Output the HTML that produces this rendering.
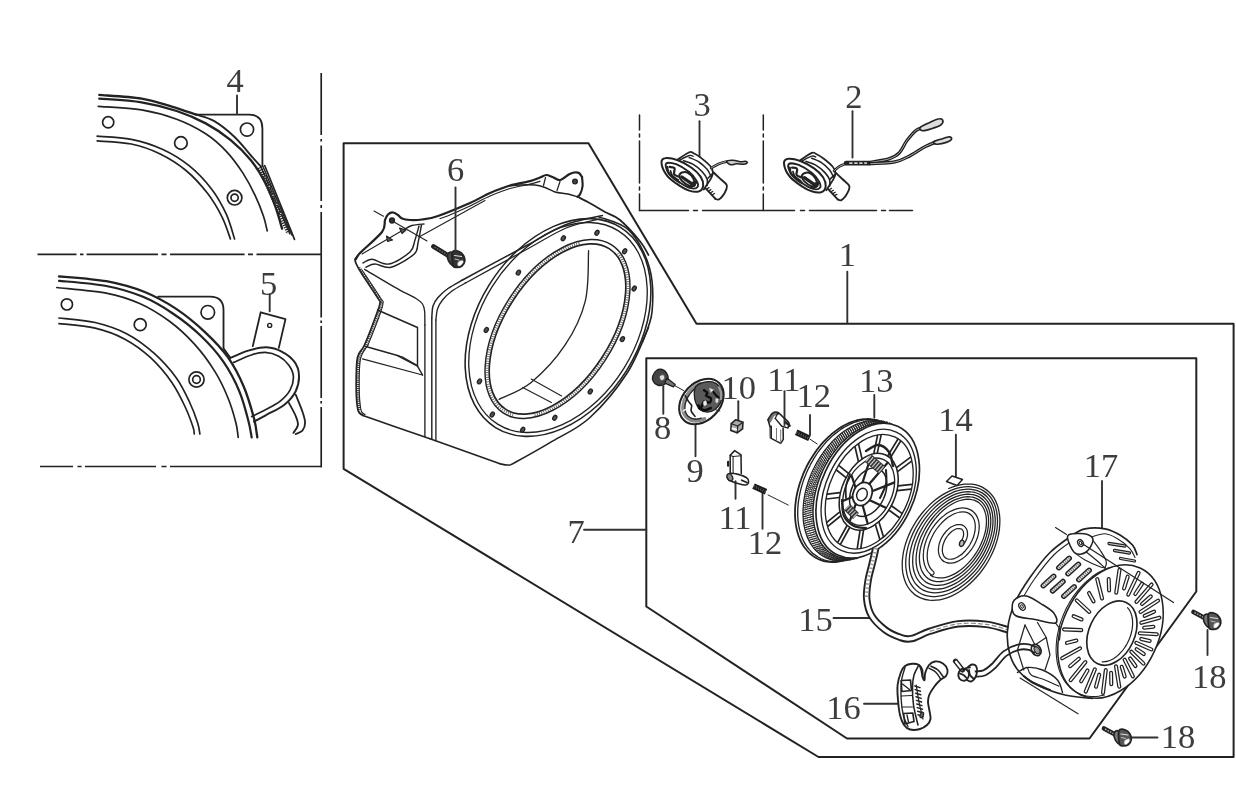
<!DOCTYPE html>
<html><head><meta charset="utf-8"><title>Recoil starter parts diagram</title>
<style>html,body{margin:0;padding:0;background:#fff}svg{display:block;font-family:"Liberation Serif",serif}
path,circle,ellipse{stroke-linecap:round;stroke-linejoin:round}</style></head>
<body><svg width="1236" height="799" viewBox="0 0 1236 799">
<defs><filter id="soft" x="0" y="0" width="1236" height="799" filterUnits="userSpaceOnUse"><feGaussianBlur stdDeviation="0.45"/></filter></defs>
<rect width="1236" height="799" fill="#fff"/>
<g filter="url(#soft)">
<path d="M343.6 143.3L588.5 143.3L696.5 323.8L1233.6 323.8L1233.6 757L818.5 757L343.6 468.8Z" fill="none" stroke="#222" stroke-width="2" />
<path d="M646.3 358.3L1196.3 358.3L1196.3 591.5L1089.5 738.5L847 738.5L646.3 606.5Z" fill="none" stroke="#222" stroke-width="2" />
<path d="M321.2 73V135M321.2 139V141.5M321.2 145.5V201M321.2 205V208M321.2 212V317.5M321.2 320.5V323M321.2 326V398M321.2 401V403.5M321.2 407V467.3" fill="none" stroke="#222" stroke-width="1.7" style="stroke-linecap:butt"/>
<path d="M37.5 254.3H76.5M80 254.3H83.5M86.6 254.3H158M161.5 254.3H166.5M170 254.3H244.6M248 254.3H253M256.5 254.3H322" fill="none" stroke="#222" stroke-width="1.7" style="stroke-linecap:butt"/>
<path d="M40 466.5H73M77.5 466.5H81.5M85 466.5H156M161.5 466.5H166.5M170 466.5H322" fill="none" stroke="#222" stroke-width="1.7" style="stroke-linecap:butt"/>
<path d="M639.5 115V210.5" fill="none" stroke="#222" stroke-width="1.5" stroke-dasharray="15 4 3 4 42 4 3 4 40"/>
<path d="M763.3 115V210.5" fill="none" stroke="#222" stroke-width="1.5" stroke-dasharray="15 4 3 4 42 4 3 4 40"/>
<path d="M639.5 210.5H912.5" fill="none" stroke="#222" stroke-width="1.5" stroke-dasharray="49 5 4 5 92 6 4 5 67 5 4 4 40"/>
<path d="M99.3 94.9C106.3 95.5 129.4 96.6 141.6 98.6C153.9 100.6 163.5 104.2 172.6 106.8C181.7 109.5 192.4 113.4 196.4 114.7" fill="none" stroke="#222" stroke-width="2.34" />
<path d="M99.3 98.6C106.3 99.2 128.7 100.2 141.6 102.3C154.5 104.4 166.1 107.5 176.7 111C187.4 114.5 196.7 118.6 205.7 123.4C214.6 128.2 222.9 133.7 230.4 139.9C238 146.1 245.2 153.3 251.1 160.5C256.9 167.8 261.4 175.3 265.5 183.3C269.7 191.2 273.1 200.5 275.9 208C278.6 215.6 281 225.3 282.1 228.7" fill="none" stroke="#222" stroke-width="2.34" />
<path d="M98.3 106.4C105.5 107 128.6 107.8 141.6 109.9C154.7 112.1 166.1 115.3 176.7 119.2C187.4 123.2 197.4 128.4 205.7 133.7C213.9 139 220.1 144.7 226.3 151.3C232.5 157.8 238 165.5 242.8 172.9C247.6 180.3 251.8 188.4 255.2 195.7C258.7 202.9 261.5 210.5 263.5 216.3C265.5 222.2 266.6 228.4 267.2 230.8" fill="none" stroke="#222" stroke-width="1.69" />
<path d="M97.2 136.2C102.9 136.7 120.5 137.1 131.3 139.3C142.1 141.4 152.6 144.8 162.3 149.2C171.9 153.6 180.9 159 189.1 165.7C197.4 172.4 205.7 181.4 211.9 189.5C218 197.5 222.5 206 226.3 214.2C230.1 222.5 233.2 234.9 234.6 239" fill="none" stroke="#222" stroke-width="1.69" />
<path d="M97.2 140.9C102.9 141.4 120.8 141.9 131.3 144C141.8 146.2 151.1 149.5 160.2 153.9C169.3 158.3 178.1 163.8 186 170.5C194 177.1 201.7 185.8 207.7 193.6C213.7 201.4 218.4 209.8 222.2 217.3C226 224.9 229.1 235.4 230.4 239" fill="none" stroke="#222" stroke-width="1.69" />
<path d="M196.4 114.7C199.3 115.7 207.5 117.2 213.9 120.9C220.3 124.6 228 130.8 234.6 137C241.1 143.2 248.7 153.1 253.2 158.1C257.6 163 259.7 165.3 261 166.7" fill="none" stroke="#222" stroke-width="1.82" />
<path d="M196.4 114.7L249 114.7Q262.4 114.7 262.4 128.5L262.4 165.7" fill="none" stroke="#222" stroke-width="1.82" />
<path d="M260.6 166.3L289.9 233.9" fill="none" stroke="#222" stroke-width="1.43" />
<path d="M262.7 165.9L292 235.3" fill="none" stroke="#222" stroke-width="1.43" />
<path d="M264.7 165.5L294.5 239.4" fill="none" stroke="#222" stroke-width="1.69" />
<path d="M259.8 167.2L288.7 233.2" fill="none" stroke="#222" stroke-width="4.68" stroke-dasharray="1.2 1.2" style="stroke-linecap:butt"/>
<circle cx="265.1" cy="177.1" r="1.3" fill="#fff" stroke="#222" stroke-width="1.17"/>
<circle cx="269.1" cy="186.2" r="1.3" fill="#fff" stroke="#222" stroke-width="1.17"/>
<circle cx="273" cy="195.2" r="1.3" fill="#fff" stroke="#222" stroke-width="1.17"/>
<circle cx="276.9" cy="204.3" r="1.3" fill="#fff" stroke="#222" stroke-width="1.17"/>
<circle cx="280.8" cy="213.4" r="1.3" fill="#fff" stroke="#222" stroke-width="1.17"/>
<circle cx="108.2" cy="122.3" r="5.6" fill="none" stroke="#222" stroke-width="1.69"/>
<circle cx="180.9" cy="143" r="6.3" fill="none" stroke="#222" stroke-width="1.69"/>
<circle cx="247" cy="129.6" r="6.6" fill="none" stroke="#222" stroke-width="1.69"/>
<circle cx="234.6" cy="197.7" r="7.3" fill="none" stroke="#222" stroke-width="1.69"/>
<circle cx="234.6" cy="197.7" r="3.6" fill="none" stroke="#222" stroke-width="1.69"/>
<path d="M59 276.3C66.9 277.1 92.1 278.6 106.3 281.2C120.6 283.9 133 287.4 144.7 292C156.3 296.7 166.1 302.2 176.2 308.9C186.4 315.7 196.9 324.5 205.5 332.6C214.1 340.7 221.7 348.4 228 357.4C234.4 366.4 239.5 376.6 243.8 386.7C248.1 396.8 251.7 409.8 254 418.3C256.2 426.7 256.8 434.2 257.3 437.4" fill="none" stroke="#222" stroke-width="2.34" />
<path d="M59 280.8C66.9 281.6 92.4 283.3 106.3 286C120.2 288.6 131.3 292 142.4 296.6C153.5 301.1 163.1 306.9 172.8 313.5C182.6 320 192.6 327.9 201 336C209.5 344.1 217.2 352.7 223.5 361.9C229.9 371.1 235.2 381.4 239.3 391.2C243.4 401 246.3 412.8 248.3 420.5C250.4 428.2 251.1 434.6 251.7 437.4" fill="none" stroke="#222" stroke-width="2.21" />
<path d="M56.8 287.5C65 288.5 92.4 290.5 106.3 293.2C120.2 295.9 129.6 299.1 140.2 303.8C150.7 308.5 160.4 314.7 169.5 321.3C178.5 328 186.7 335.6 194.2 343.9C201.8 352.1 208.9 361.9 214.5 370.9C220.2 379.9 224.5 389.3 228 398C231.6 406.6 234.2 416.2 235.9 422.8C237.6 429.3 237.8 435 238.2 437.4" fill="none" stroke="#222" stroke-width="1.69" />
<path d="M59 318C65 318.7 83.8 319.8 95.1 322.5C106.3 325.1 116.9 328.7 126.6 333.7C136.4 338.8 145.4 345.6 153.7 352.9C161.9 360.2 170.2 369.4 176.2 377.7C182.2 386 186.2 395 189.7 402.5C193.3 410 195.9 417.5 197.6 422.8C199.3 428 199.5 432.2 199.9 434" fill="none" stroke="#222" stroke-width="1.69" />
<path d="M59 323.6C65 324.3 84.2 325.6 95.1 328.1C106 330.7 115.2 334 124.4 338.9C133.6 343.8 142.4 350.2 150.3 357.4C158.2 364.6 165.9 373.9 171.7 382.2C177.5 390.5 181.7 399.5 185.2 407C188.8 414.5 191.6 422.8 193.1 427.3C194.6 431.8 194.1 432.9 194.2 434" fill="none" stroke="#222" stroke-width="1.69" />
<path d="M158.2 296.6L210 296.6Q223.5 296.6 223.5 310.1L223.5 348.4L230.3 357.9" fill="none" stroke="#222" stroke-width="1.82" />
<path d="M230.3 357.9C233.3 356.7 242.3 352.4 248.3 350.6C254.3 348.9 260.7 347.1 266.4 347.3C272 347.5 277.4 349.3 282.1 351.8C286.8 354.2 291.7 358 294.5 361.9C297.4 365.9 298.9 370.6 299 375.4C299.2 380.3 298.1 386.3 295.7 391.2C293.2 396.1 289.3 400.8 284.4 404.7C279.5 408.7 271.4 412.1 266.4 414.9C261.3 417.7 256 420.5 254 421.6" fill="none" stroke="#222" stroke-width="1.95" />
<path d="M233.7 362.4C236.5 361.2 245.3 356.8 250.6 355.2C255.8 353.5 260.5 352.3 265.2 352.4C269.9 352.6 274.8 354.1 278.8 356.3C282.7 358.4 286.5 361.9 288.9 365.3C291.3 368.7 293.2 372.4 293.4 376.6C293.6 380.7 292.3 386 290 390.1C287.8 394.2 284.2 398 279.9 401.4C275.6 404.7 268.8 407.9 264.1 410.4C259.4 412.9 253.8 415.4 251.7 416.5" fill="none" stroke="#222" stroke-width="1.69" />
<path d="M252.8 346.1L260.7 312.3L285.5 319.1L278.8 347.9" fill="none" stroke="#222" stroke-width="1.82" />
<circle cx="269.7" cy="325.4" r="2" fill="none" stroke="#222" stroke-width="1.43"/>
<path d="M295.7 394.6C296.8 397.4 300.8 406.8 302.4 411.5C304 416.2 305.1 419.6 305.1 422.8C305.1 426 304 428.8 302.4 430.7C300.8 432.5 296.8 433.5 295.7 434" fill="none" stroke="#222" stroke-width="1.82" />
<path d="M288.9 402.9C290 405.1 294.2 412.3 295.7 416C297.2 419.7 298.3 422.2 297.9 425C297.5 427.8 294.2 431.6 293.4 432.9" fill="none" stroke="#222" stroke-width="1.82" />
<circle cx="66.9" cy="304.4" r="5.6" fill="none" stroke="#222" stroke-width="1.69"/>
<circle cx="140.2" cy="324.7" r="6" fill="none" stroke="#222" stroke-width="1.69"/>
<circle cx="207.8" cy="312.3" r="6.8" fill="none" stroke="#222" stroke-width="1.69"/>
<circle cx="196.5" cy="379.5" r="7.6" fill="none" stroke="#222" stroke-width="1.69"/>
<circle cx="196.5" cy="379.5" r="3.8" fill="none" stroke="#222" stroke-width="1.69"/>
<path d="M356 259C356.7 258 355.7 257.5 360 253C364.3 248.5 377.8 237.5 382 232C386.2 226.5 384 222.9 385 220C386 217.1 386.7 215.8 388 214.5C389.3 213.2 391.3 212.4 393 212.5C394.7 212.6 396.5 214 398 215C399.5 216 400 217.7 402 218.5C404 219.3 406.7 219.8 410 220C413.3 220.2 417.3 220.2 422 219.5C426.7 218.8 430 218.8 438 216C446 213.2 461.3 206.8 470 203C478.7 199.2 483.3 195.9 490 193C496.7 190.1 503.3 187.5 510 185.5C516.7 183.5 525 182.6 530 181.2C535 179.9 537.3 178.5 540 177.5C542.7 176.5 544.2 175.1 546.2 175C548.3 174.9 550.2 176.2 552.5 177C554.8 177.8 557.3 180.4 560 180C562.7 179.6 566.4 175.8 568.8 174.5C571.1 173.2 572.3 172.8 574 172.5C575.7 172.2 577.7 172.2 579 173C580.3 173.8 581.5 176.3 582 177" fill="none" stroke="#222" stroke-width="2.24" />
<path d="M440 218.5C441.2 218.1 442.5 218.1 447.5 216C452.5 213.9 462.9 209.3 470 206C477.1 202.7 483.3 198.9 490 196C496.7 193.1 503.3 190.5 510 188.5C516.7 186.5 525 185.5 530 184.2C535 183 538.3 181.8 540 181.2" fill="none" stroke="#222" stroke-width="1.23" />
<path d="M508 186.2C510 186 515.5 185.2 520 185C524.5 184.8 530.8 184.6 535 185C539.2 185.4 541.7 186.3 545 187.5C548.3 188.7 551.2 190.9 555 192C558.8 193.1 564.2 193.2 568 194C571.8 194.8 575.9 196.3 577.5 196.8" fill="none" stroke="#222" stroke-width="1.34" />
<path d="M545.5 177.5L543.5 185.5" fill="none" stroke="#222" stroke-width="1.23" />
<path d="M560 181.5L557 190.5" fill="none" stroke="#222" stroke-width="1.23" />
<circle cx="575" cy="181.5" r="2.3" fill="#444" stroke="#222" stroke-width="1.34"/>
<path d="M582 177C582.1 178.5 582.9 183.2 582.6 186C582.3 188.8 581.1 192.2 580.2 194C579.4 195.8 578 196.3 577.5 196.8" fill="none" stroke="#222" stroke-width="2.13" />
<path d="M577.5 196.8C579.6 197.9 585.4 200.7 590 203.2C594.6 205.7 600 209.2 605 212C610 214.8 614.2 215.1 620 220C625.8 224.9 635.2 235.4 640 241.2C644.8 247.1 647.1 252.7 648.5 255" fill="none" stroke="#222" stroke-width="1.79" />
<circle cx="392" cy="220.5" r="2.4" fill="#333" stroke="#222" stroke-width="1.46"/>
<path d="M362 254L398 233L404.5 229.3" fill="none" stroke="#222" stroke-width="1.12" />
<path d="M399.5 228L406 230L402 233.5Z" fill="#555" stroke="#222" stroke-width="1.12" />
<path d="M386.5 236L392.5 240L387.5 241.5Z" fill="#555" stroke="#222" stroke-width="1.12" />
<path d="M404.5 229.3C405.8 228.7 408.8 226.4 412 225.5C415.2 224.6 422 224.2 424 224" fill="none" stroke="#222" stroke-width="1.34" />
<path d="M374 211L383.5 216.2" fill="none" stroke="#222" stroke-width="1.12" />
<path d="M394 222L427 241" fill="none" stroke="#222" stroke-width="1.12" />
<path d="M363 263C364.5 262.4 367.7 259 372 259.2C376.3 259.4 382.7 265.2 389 264C395.3 262.8 405.7 256 410 252C414.3 248 413.5 244.3 415 240C416.5 235.7 418.3 228.3 419 226" fill="none" stroke="#222" stroke-width="1.46" />
<path d="M366 267.2C367.5 266.7 370.8 264 375 264C379.2 264 384.5 268.8 391 267.2C397.5 265.6 409.5 258.2 414 254.2C418.5 250.2 416.8 247.9 418 243C419.2 238.1 420.9 228 421.5 225" fill="none" stroke="#222" stroke-width="1.46" />
<path d="M419 237L485 200.5" fill="none" stroke="#222" stroke-width="1.12" />
<path d="M462.5 280C473.3 274.2 510.4 254.2 527.5 245C544.6 235.8 552.5 229.9 565 225C577.5 220.1 596.2 217.1 602.5 215.5" fill="none" stroke="#222" stroke-width="1.46" />
<path d="M465 283.2C475.6 277.4 511.9 257.5 528.8 248.2C545.6 239 554.4 232.9 566.2 228C578.1 223.1 594.4 220.5 600 219" fill="none" stroke="#222" stroke-width="1.23" />
<path d="M364.6 269.3C369.7 272.3 386.4 282.4 395 287.3C403.6 292.2 411.4 295.7 416 298.5C420.6 301.3 421.1 301.9 422.5 304C423.9 306.1 424.2 307.5 424.6 311C425 314.5 424.8 322.7 424.9 325" fill="none" stroke="#222" stroke-width="1.34" />
<path d="M424.9 325L424.9 436.5" fill="none" stroke="#222" stroke-width="1.34" />
<path d="M462.5 280C460.1 281.4 452.1 285.6 448 288.5C443.9 291.4 440.5 294.6 438 297.5C435.5 300.4 434 302.6 433 306C432 309.4 432 316 431.8 318" fill="none" stroke="#222" stroke-width="1.46" />
<path d="M431.8 318L431.8 439" fill="none" stroke="#222" stroke-width="1.46" />
<path d="M465.5 283C463.2 284.3 455.8 288.2 452 291C448.2 293.8 444.9 297 442.5 300C440.1 303 438.6 305.7 437.5 309C436.4 312.3 436.2 318.2 435.9 320" fill="none" stroke="#222" stroke-width="1.34" />
<path d="M435.9 320L435.9 440.5" fill="none" stroke="#222" stroke-width="1.34" />
<path d="M357.5 256.2C357.1 256.9 354.7 257.7 355 260C355.3 262.3 355.8 263.8 359.5 270C363.2 276.2 374.1 292 377.5 297.5C380.9 303 380.2 300.1 380 303C379.8 305.9 378.8 308 376.2 315C373.7 322 367.6 337.9 364.5 345C361.4 352.1 358.9 350.4 357.5 357.5C356.1 364.6 356.2 378.8 356.2 387.5C356.3 396.2 356.9 405.3 358 410C359.1 414.7 362.2 414.6 363 415.5" fill="none" stroke="#222" stroke-width="1.79" />
<path d="M362 270C365.1 274.7 377 292.5 380.5 298C384 303.5 383.2 300.2 383 303.2C382.8 306.3 381.8 309.3 379.2 316.2C376.8 323.2 369.9 340.2 368 345" fill="none" stroke="#222" stroke-width="1.12" />
<path d="M359 267.5C362.3 272.5 375.2 291.8 379 297.8C382.8 303.7 381.7 300 381.5 303C381.3 306 380.3 308.5 377.8 315.5C375.2 322.5 369.4 337.9 366.2 345C363.1 352.1 360.4 350.9 359 358C357.6 365.1 357.7 378.8 357.8 387.5C357.8 396.2 359.2 406.2 359.5 410" fill="none" stroke="#333" stroke-width="3.14" stroke-dasharray="1.0 1.1" style="stroke-linecap:butt"/>
<path d="M368 345C366.8 347.3 362 351.7 360.5 358.8C359 365.8 359.2 379 359.2 387.5C359.3 396 360 405.5 361 410C362 414.5 364.3 413.8 365 414.5" fill="none" stroke="#222" stroke-width="1.12" />
<path d="M363 415.5C374.2 419.4 418.8 434.9 430 438.8" fill="none" stroke="#222" stroke-width="1.57" />
<path d="M430 438.8L500 463.8" fill="none" stroke="#222" stroke-width="1.57" />
<path d="M500 463.8C501.3 464 505.5 465.2 508 465C510.5 464.8 507.6 466.5 515 462.5C522.4 458.5 540 448.8 552.5 441.2C565 433.8 577.5 429 590 417.5C602.5 406 617.8 387.5 627.5 372.5C637.2 357.5 645 335 648.5 327.5" fill="none" stroke="#222" stroke-width="1.57" />
<path d="M377.5 310L417.5 327.5L417.5 366.2" fill="none" stroke="#222" stroke-width="1.46" />
<path d="M362.5 358.8L422.5 375" fill="none" stroke="#222" stroke-width="1.23" />
<path d="M365 346.2L397.5 355.5L417.5 366.2L422.5 375" fill="none" stroke="#222" stroke-width="1.46" />
<path d="M397.5 355.5L402.5 357L417.5 365.5" fill="none" stroke="#222" stroke-width="1.12" />
<ellipse cx="558" cy="327.5" rx="118" ry="81" transform="rotate(-58 558 327.5)" fill="none" stroke="#222" stroke-width="1.57" />
<ellipse cx="558" cy="327.5" rx="114" ry="77.5" transform="rotate(-58 558 327.5)" fill="none" stroke="#222" stroke-width="1.34" />
<ellipse cx="557.5" cy="329" rx="100" ry="57" transform="rotate(-57 557.5 329)" fill="none" stroke="#222" stroke-width="1.46" />
<ellipse cx="557.5" cy="329" rx="95.5" ry="52.8" transform="rotate(-57 557.5 329)" fill="none" stroke="#222" stroke-width="1.68" />
<path d="M513.1 414.9C512.5 414.7 510.6 414.1 509.4 413.6C508.2 413.1 507 412.6 505.9 411.9C504.8 411.3 503.7 410.6 502.7 409.8C501.7 409.1 500.7 408.3 499.8 407.4C498.8 406.5 497.9 405.5 497.1 404.5C496.3 403.5 495.5 402.4 494.7 401.3C494 400.1 493.3 398.9 492.7 397.7C492 396.4 491.4 395.1 490.9 393.8C490.4 392.4 489.9 391 489.5 389.5C489.1 388.1 488.7 386.6 488.4 385C488.1 383.5 487.8 381.9 487.6 380.2C487.4 378.6 487.3 376.9 487.2 375.2C487.1 373.4 487.1 371.7 487.1 369.9C487.2 368.1 487.3 366.3 487.4 364.4C487.6 362.6 487.8 360.7 488 358.8C488.3 356.9 488.6 354.9 489 353C489.3 351 489.8 349 490.3 347.1C490.7 345.1 491.3 343.1 491.9 341.1C492.5 339.1 493.1 337 493.8 335C494.5 333 495.2 331 496 328.9C496.8 326.9 497.7 324.9 498.6 322.8C499.5 320.8 500.4 318.8 501.4 316.8C502.4 314.8 503.4 312.8 504.5 310.8C505.6 308.8 506.7 306.8 507.9 304.9C509 302.9 510.2 301 511.5 299.1C512.7 297.2 514 295.3 515.3 293.5C516.6 291.6 517.9 289.8 519.3 288C520.7 286.2 522.1 284.4 523.5 282.7C525 281 526.4 279.3 527.9 277.7C529.4 276 530.9 274.4 532.4 272.9C534 271.3 535.5 269.8 537.1 268.4C538.6 266.9 540.2 265.5 541.8 264.1C543.4 262.8 545 261.5 546.7 260.2C548.3 259 549.9 257.8 551.5 256.6C553.2 255.5 554.8 254.4 556.4 253.4C558.1 252.4 559.7 251.5 561.3 250.6C563 249.7 564.6 248.9 566.2 248.1C567.9 247.3 569.5 246.6 571.1 246C572.7 245.4 574.3 244.8 575.9 244.3C577.4 243.9 579.8 243.3 580.6 243.1" fill="none" stroke="#555" stroke-width="3.36" stroke-dasharray="0.8 1.5" style="stroke-linecap:butt"/>
<path d="M617.9 253.5C618.2 254 619.3 255.3 620 256.3C620.6 257.3 621.3 258.3 621.8 259.4C622.4 260.5 623 261.6 623.5 262.7C624 263.9 624.4 265.1 624.8 266.3C625.3 267.5 625.6 268.8 626 270.1C626.3 271.4 626.6 272.8 626.8 274.2C627.1 275.5 627.3 277 627.4 278.4C627.6 279.9 627.7 281.3 627.8 282.8C627.8 284.3 627.9 285.9 627.9 287.4C627.8 289 627.8 290.6 627.7 292.2C627.6 293.8 627.4 295.4 627.2 297.1C627.1 298.8 626.8 300.4 626.5 302.1C626.3 303.8 625.9 305.5 625.6 307.2C625.2 309 624.8 310.7 624.4 312.4C623.9 314.2 623.4 315.9 622.9 317.7C622.4 319.4 621.8 321.2 621.2 323C620.6 324.8 619.9 326.5 619.3 328.3C618.6 330.1 617.9 331.9 617.1 333.6C616.3 335.4 615.5 337.2 614.7 338.9C613.9 340.7 613 342.5 612.1 344.2C611.2 346 610.2 347.7 609.3 349.4C608.3 351.2 607.3 352.9 606.3 354.6C605.2 356.3 604.2 358 603.1 359.6C602 361.3 600.9 362.9 599.7 364.5C598.6 366.2 597.4 367.8 596.2 369.3C595 370.9 593.8 372.5 592.5 374C591.3 375.5 590 377 588.8 378.5C587.5 379.9 586.2 381.4 584.8 382.8C583.5 384.2 582.2 385.5 580.8 386.9C579.5 388.2 578.1 389.5 576.7 390.7C575.4 392 574 393.2 572.6 394.4C571.2 395.5 569.8 396.7 568.3 397.8C566.9 398.9 565.5 399.9 564.1 400.9C562.7 401.9 561.2 402.9 559.8 403.8C558.4 404.7 556.9 405.6 555.5 406.4C554.1 407.2 552.6 408 551.2 408.7C549.8 409.4 548.4 410.1 546.9 410.7C545.5 411.3 544.1 411.9 542.7 412.4C541.3 413 539.9 413.4 538.5 413.8C537.2 414.2 535.1 414.7 534.4 414.9" fill="none" stroke="#555" stroke-width="3.36" stroke-dasharray="0.8 1.5" style="stroke-linecap:butt"/>
<path d="M598.7 216.9C603.8 219.1 620.7 222 629.1 230.4C637.6 238.8 645.6 254 649.4 267.5C653.2 281.1 653.2 299.1 652.1 311.4C651 323.8 644.2 336.8 642.6 341.8" fill="none" stroke="#222" stroke-width="1.57" />
<ellipse cx="563.3" cy="238.2" rx="2.6" ry="1.8" transform="rotate(-58 563.3 238.2)" fill="#555" stroke="#222" stroke-width="1.34" />
<ellipse cx="597" cy="232.8" rx="2.6" ry="1.8" transform="rotate(-58 597 232.8)" fill="#555" stroke="#222" stroke-width="1.34" />
<ellipse cx="624.7" cy="251.3" rx="2.6" ry="1.8" transform="rotate(-58 624.7 251.3)" fill="#555" stroke="#222" stroke-width="1.34" />
<ellipse cx="634.2" cy="288.5" rx="2.6" ry="1.8" transform="rotate(-58 634.2 288.5)" fill="#555" stroke="#222" stroke-width="1.34" />
<ellipse cx="622.4" cy="339.1" rx="2.6" ry="1.8" transform="rotate(-58 622.4 339.1)" fill="#555" stroke="#222" stroke-width="1.34" />
<ellipse cx="590.3" cy="391.5" rx="2.6" ry="1.8" transform="rotate(-58 590.3 391.5)" fill="#555" stroke="#222" stroke-width="1.34" />
<ellipse cx="554.8" cy="417.8" rx="2.6" ry="1.8" transform="rotate(-58 554.8 417.8)" fill="#555" stroke="#222" stroke-width="1.34" />
<ellipse cx="522.7" cy="429.7" rx="2.6" ry="1.8" transform="rotate(-58 522.7 429.7)" fill="#555" stroke="#222" stroke-width="1.34" />
<ellipse cx="492.3" cy="414.5" rx="2.6" ry="1.8" transform="rotate(-58 492.3 414.5)" fill="#555" stroke="#222" stroke-width="1.34" />
<ellipse cx="479.5" cy="381.4" rx="2.6" ry="1.8" transform="rotate(-58 479.5 381.4)" fill="#555" stroke="#222" stroke-width="1.34" />
<ellipse cx="486.3" cy="330" rx="2.6" ry="1.8" transform="rotate(-58 486.3 330)" fill="#555" stroke="#222" stroke-width="1.34" />
<ellipse cx="518.4" cy="272.6" rx="2.6" ry="1.8" transform="rotate(-58 518.4 272.6)" fill="#555" stroke="#222" stroke-width="1.34" />
<path d="M588.6 250.7C588 259.1 589.2 285.6 585.2 301.3C581.3 317.1 574 331.7 565 345.2C556 358.7 542.2 373.4 531.2 382.4C520.2 391.4 504.4 396.4 499.1 399.3" fill="none" stroke="#222" stroke-width="1.34" />
<path d="M531.2 379L561.6 395.9" fill="none" stroke="#222" stroke-width="1.12" />
<path d="M522.7 387.4L551.4 402.6" fill="none" stroke="#222" stroke-width="1.12" />
<path d="M433.5 246.5L451 257.3" fill="none" stroke="#222" stroke-width="4.7" style="stroke-linecap:round"/>
<path d="M434.5 247L450 256.8" fill="none" stroke="#666" stroke-width="1.46" stroke-dasharray="1.6 1.2" style="stroke-linecap:butt"/>
<ellipse cx="452.8" cy="259.2" rx="4.6" ry="7.6" transform="rotate(-28 452.8 259.2)" fill="#444" stroke="#222" stroke-width="1.57" />
<path d="M452.5 252C453.5 249.7 457.2 250.9 459 251.5C460.8 252.1 462.5 253.9 463.5 255.5C464.5 257.1 465.1 259.2 464.8 261C464.6 262.8 463.4 264.9 462 266C460.6 267.1 458 267.6 456.5 267.5C455 267.4 453.7 268.1 453 265.5C452.3 262.9 451.5 254.3 452.5 252Z" fill="#333" stroke="#222" stroke-width="1.68" />
<path d="M458.2 262C458.9 261.1 461.4 260.2 462.2 260.3C463 260.4 463.5 261.6 463.2 262.5C462.9 263.4 461.4 265.2 460.5 265.7C459.6 266.2 458.2 266.1 457.8 265.5C457.4 264.9 457.5 262.9 458.2 262Z" fill="#fff" stroke="#888" stroke-width="0.67" />
<path d="M454.5 255.5L461.5 256.5" fill="none" stroke="#ddd" stroke-width="1.23" />
<path d="M455 259L459 260" fill="none" stroke="#bbb" stroke-width="1.01" />
<text x="235" y="91.9" font-size="34.5" fill="#3c3c3c" text-anchor="middle">4</text>
<text x="268.6" y="294.9" font-size="34.5" fill="#3c3c3c" text-anchor="middle">5</text>
<text x="455.5" y="180.9" font-size="34.5" fill="#3c3c3c" text-anchor="middle">6</text>
<text x="702" y="116.4" font-size="34.5" fill="#3c3c3c" text-anchor="middle">3</text>
<text x="853.8" y="108.4" font-size="34.5" fill="#3c3c3c" text-anchor="middle">2</text>
<text x="847.3" y="265.6" font-size="34.5" fill="#3c3c3c" text-anchor="middle">1</text>
<text x="662.5" y="439.4" font-size="34.5" fill="#3c3c3c" text-anchor="middle">8</text>
<text x="695" y="481.9" font-size="34.5" fill="#3c3c3c" text-anchor="middle">9</text>
<text x="738.8" y="399.4" font-size="34.5" fill="#3c3c3c" text-anchor="middle">10</text>
<text x="783.8" y="390.7" font-size="34.5" fill="#3c3c3c" text-anchor="middle">11</text>
<text x="813.8" y="406.9" font-size="34.5" fill="#3c3c3c" text-anchor="middle">12</text>
<text x="876.3" y="391.9" font-size="34.5" fill="#3c3c3c" text-anchor="middle">13</text>
<text x="735" y="529.4" font-size="34.5" fill="#3c3c3c" text-anchor="middle">11</text>
<text x="765" y="554.4" font-size="34.5" fill="#3c3c3c" text-anchor="middle">12</text>
<text x="955.5" y="430.7" font-size="34.5" fill="#3c3c3c" text-anchor="middle">14</text>
<text x="815.5" y="630.5" font-size="34.5" fill="#3c3c3c" text-anchor="middle">15</text>
<text x="843.4" y="719.1" font-size="34.5" fill="#3c3c3c" text-anchor="middle">16</text>
<text x="1101" y="476.9" font-size="34.5" fill="#3c3c3c" text-anchor="middle">17</text>
<text x="1209.3" y="688.2" font-size="34.5" fill="#3c3c3c" text-anchor="middle">18</text>
<text x="1178" y="748.4" font-size="34.5" fill="#3c3c3c" text-anchor="middle">18</text>
<text x="576.2" y="542.6" font-size="34.5" fill="#3c3c3c" text-anchor="middle">7</text>
<path d="M237 95.5L237 114" fill="none" stroke="#333" stroke-width="1.9" />
<path d="M269.7 294.3L269.7 311.2" fill="none" stroke="#333" stroke-width="1.9" />
<path d="M455.5 187.5L455.5 251.3" fill="none" stroke="#333" stroke-width="1.9" />
<path d="M699.5 121.3L699.5 156.3" fill="none" stroke="#333" stroke-width="1.9" />
<path d="M852.5 111.3L852.5 157.5" fill="none" stroke="#333" stroke-width="1.9" />
<path d="M847.3 271.7L847.3 322.6" fill="none" stroke="#333" stroke-width="1.9" />
<path d="M663.3 386.3L663.3 413.8" fill="none" stroke="#333" stroke-width="1.9" />
<path d="M695.5 425L695.5 456.3" fill="none" stroke="#333" stroke-width="1.9" />
<path d="M738.3 401.3L738.3 420" fill="none" stroke="#333" stroke-width="1.9" />
<path d="M784.5 391.3L784.5 425" fill="none" stroke="#333" stroke-width="1.9" />
<path d="M810 415L810 435" fill="none" stroke="#333" stroke-width="1.9" />
<path d="M874.3 395L874.3 417.5" fill="none" stroke="#333" stroke-width="1.9" />
<path d="M735.5 481.3L735.5 498.8" fill="none" stroke="#333" stroke-width="1.9" />
<path d="M762.5 493.8L762.5 528.8" fill="none" stroke="#333" stroke-width="1.9" />
<path d="M955.9 434.7L955.9 477" fill="none" stroke="#333" stroke-width="1.9" />
<path d="M833.5 618L870 618" fill="none" stroke="#333" stroke-width="1.9" />
<path d="M864 703.8L898 703.8" fill="none" stroke="#333" stroke-width="1.9" />
<path d="M1102 481L1102 527.5" fill="none" stroke="#333" stroke-width="1.9" />
<path d="M1207.5 630L1207.5 655" fill="none" stroke="#333" stroke-width="1.9" />
<path d="M1131.3 737.5L1157.5 737.5" fill="none" stroke="#333" stroke-width="1.9" />
<path d="M584 529.8L646.3 529.8" fill="none" stroke="#333" stroke-width="1.9" />
<path d="M844.8 560.2C844.1 560.4 842.1 560.9 840.7 561.2C839.4 561.5 838 561.7 836.7 561.8C835.4 562 834.1 562 832.8 562C831.5 562.1 830.2 562 828.9 561.9C827.7 561.7 826.4 561.5 825.2 561.3C824 561 822.8 560.7 821.6 560.3C820.4 559.9 819.3 559.5 818.2 559C817.1 558.4 816 557.9 814.9 557.2C813.9 556.6 812.8 555.9 811.9 555.1C810.9 554.4 809.9 553.5 809 552.7C808.1 551.8 807.2 550.8 806.4 549.8C805.6 548.8 804.8 547.8 804 546.7C803.3 545.6 802.6 544.4 801.9 543.2C801.2 542 800.6 540.8 800 539.5C799.5 538.2 798.9 536.9 798.5 535.5C798 534.1 797.6 532.7 797.2 531.2C796.8 529.8 796.5 528.2 796.2 526.7C795.9 525.2 795.7 523.6 795.5 522C795.3 520.4 795.2 518.8 795.1 517.2C795 515.5 795 513.8 795 512.1C795 510.4 795.1 508.7 795.2 507C795.3 505.3 795.5 503.5 795.7 501.8C795.9 500 796.2 498.2 796.5 496.5C796.9 494.7 797.2 492.9 797.7 491.1C798.1 489.4 798.6 487.6 799.1 485.8C799.6 484 800.1 482.3 800.8 480.5C801.4 478.8 802 477 802.7 475.3C803.4 473.5 804.2 471.8 804.9 470.1C805.7 468.4 806.6 466.7 807.4 465C808.3 463.4 809.2 461.7 810.1 460.1C811.1 458.5 812.1 456.9 813.1 455.4C814.1 453.9 815.1 452.3 816.2 450.9C817.3 449.4 818.4 447.9 819.5 446.5C820.7 445.1 821.8 443.8 823 442.4C824.2 441.1 825.4 439.9 826.7 438.6C827.9 437.4 829.2 436.2 830.5 435.1C831.7 434 833 432.9 834.3 431.9C835.7 430.9 837 429.9 838.3 429C839.7 428.1 841 427.2 842.4 426.4C843.7 425.7 845.1 424.9 846.4 424.2C847.8 423.6 849.2 423 850.5 422.4C851.9 421.9 853.3 421.4 854.6 421C856 420.6 857.3 420.2 858.7 419.9C860 419.6 861.4 419.4 862.7 419.2C864 419.1 865.4 419 866.7 419C868 418.9 869.3 419 870.5 419.1C871.8 419.2 873 419.4 874.3 419.6C875.5 419.8 877.3 420.4 877.9 420.5" fill="none" stroke="#222" stroke-width="1.79" />
<path d="M847.1 559.7C846.4 559.9 844.4 560.4 843.1 560.7C841.7 561 840.4 561.2 839.1 561.3C837.8 561.4 836.5 561.5 835.2 561.5C833.9 561.5 832.6 561.5 831.4 561.3C830.1 561.2 828.9 561 827.7 560.8C826.5 560.5 825.3 560.2 824.1 559.8C823 559.4 821.8 559 820.7 558.5C819.6 557.9 818.5 557.4 817.5 556.7C816.4 556.1 815.4 555.4 814.5 554.6C813.5 553.9 812.5 553.1 811.6 552.2C810.7 551.3 809.9 550.4 809 549.4C808.2 548.4 807.4 547.4 806.7 546.3C805.9 545.2 805.2 544.1 804.6 542.9C803.9 541.7 803.3 540.4 802.7 539.1C802.2 537.9 801.6 536.5 801.2 535.2C800.7 533.8 800.3 532.4 799.9 530.9C799.5 529.5 799.2 528 798.9 526.5C798.6 524.9 798.4 523.4 798.2 521.8C798 520.2 797.9 518.6 797.8 517C797.7 515.3 797.7 513.7 797.7 512C797.7 510.3 797.8 508.6 797.9 506.9C798.1 505.2 798.2 503.4 798.4 501.7C798.7 500 798.9 498.2 799.3 496.4C799.6 494.7 799.9 492.9 800.4 491.2C800.8 489.4 801.3 487.6 801.8 485.9C802.3 484.1 802.8 482.4 803.4 480.6C804 478.9 804.7 477.1 805.4 475.4C806.1 473.7 806.8 472 807.6 470.3C808.4 468.6 809.2 466.9 810.1 465.3C810.9 463.6 811.8 462 812.8 460.4C813.7 458.8 814.7 457.2 815.7 455.7C816.7 454.2 817.7 452.7 818.8 451.2C819.8 449.7 821 448.3 822.1 446.9C823.2 445.5 824.4 444.2 825.5 442.8C826.7 441.5 827.9 440.3 829.2 439.1C830.4 437.8 831.6 436.7 832.9 435.6C834.2 434.4 835.5 433.4 836.8 432.4C838.1 431.4 839.4 430.4 840.7 429.5C842 428.6 843.4 427.8 844.7 427C846.1 426.2 847.4 425.5 848.8 424.8C850.1 424.1 851.5 423.5 852.8 423C854.2 422.4 855.5 422 856.9 421.5C858.2 421.1 859.6 420.8 860.9 420.5C862.3 420.2 863.6 420 864.9 419.8C866.2 419.7 867.5 419.6 868.8 419.5C870.1 419.5 871.4 419.6 872.7 419.7C873.9 419.8 875.2 419.9 876.4 420.2C877.6 420.4 879.4 420.9 880 421.1" fill="none" stroke="#222" stroke-width="1.34" />
<path d="M852.7 558.5C852 558.6 850.1 559.2 848.7 559.4C847.4 559.7 846.1 559.9 844.8 560C843.5 560.2 842.3 560.3 841 560.3C839.7 560.3 838.5 560.2 837.3 560.1C836 560 834.8 559.8 833.6 559.5C832.4 559.3 831.3 559 830.1 558.6C829 558.2 827.9 557.8 826.8 557.3C825.7 556.8 824.7 556.2 823.6 555.6C822.6 554.9 821.6 554.3 820.6 553.5C819.7 552.8 818.8 552 817.9 551.1C817 550.3 816.1 549.3 815.3 548.4C814.5 547.4 813.7 546.4 813 545.3C812.3 544.2 811.6 543.1 810.9 542C810.3 540.8 809.7 539.6 809.1 538.3C808.6 537 808.1 535.7 807.6 534.4C807.1 533 806.7 531.7 806.3 530.2C806 528.8 805.6 527.3 805.4 525.9C805.1 524.4 804.9 522.8 804.7 521.3C804.5 519.7 804.4 518.1 804.3 516.5C804.2 514.9 804.2 513.3 804.2 511.7C804.2 510 804.3 508.3 804.4 506.6C804.5 505 804.7 503.3 804.9 501.6C805.2 499.8 805.4 498.1 805.7 496.4C806 494.7 806.4 492.9 806.8 491.2C807.2 489.5 807.7 487.8 808.2 486C808.7 484.3 809.2 482.6 809.8 480.9C810.4 479.1 811.1 477.4 811.8 475.7C812.4 474.1 813.2 472.4 813.9 470.7C814.7 469.1 815.5 467.4 816.3 465.8C817.2 464.2 818.1 462.6 819 461C819.9 459.5 820.8 457.9 821.8 456.4C822.8 454.9 823.8 453.4 824.9 452C825.9 450.5 827 449.1 828.1 447.8C829.2 446.4 830.4 445.1 831.5 443.8C832.7 442.5 833.9 441.3 835.1 440.1C836.3 438.9 837.5 437.7 838.8 436.6C840 435.6 841.3 434.5 842.5 433.5C843.8 432.5 845.1 431.6 846.4 430.7C847.7 429.8 849 429 850.3 428.2C851.7 427.4 853 426.7 854.3 426.1C855.6 425.4 857 424.8 858.3 424.3C859.6 423.8 861 423.3 862.3 422.9C863.6 422.5 864.9 422.1 866.3 421.8C867.6 421.6 868.9 421.3 870.2 421.2C871.5 421 872.8 420.9 874 420.9C875.3 420.9 876.5 420.9 877.8 421C879 421.1 880.2 421.3 881.4 421.5C882.6 421.8 884.4 422.3 884.9 422.4" fill="none" stroke="#2a2a2a" stroke-width="2.58" stroke-dasharray="1.1 1.1" style="stroke-linecap:butt"/>
<path d="M854.3 558.1C853.7 558.3 851.7 558.8 850.4 559.1C849.1 559.3 847.8 559.5 846.5 559.7C845.2 559.8 843.9 559.9 842.7 559.9C841.4 559.9 840.2 559.8 839 559.7C837.7 559.6 836.5 559.4 835.4 559.2C834.2 558.9 833 558.6 831.9 558.2C830.7 557.8 829.6 557.4 828.6 556.9C827.5 556.4 826.4 555.8 825.4 555.2C824.4 554.6 823.4 553.9 822.4 553.2C821.5 552.4 820.6 551.6 819.7 550.8C818.8 549.9 818 549 817.2 548.1C816.3 547.1 815.6 546.1 814.9 545C814.1 544 813.4 542.8 812.8 541.7C812.2 540.5 811.6 539.3 811 538.1C810.4 536.8 809.9 535.5 809.5 534.2C809 532.8 808.6 531.4 808.2 530C807.9 528.6 807.5 527.2 807.3 525.7C807 524.2 806.8 522.7 806.6 521.1C806.4 519.6 806.3 518 806.2 516.4C806.1 514.8 806.1 513.2 806.1 511.6C806.1 509.9 806.2 508.3 806.3 506.6C806.4 504.9 806.6 503.2 806.8 501.5C807 499.8 807.3 498.1 807.6 496.4C807.9 494.7 808.3 492.9 808.7 491.2C809.1 489.5 809.6 487.8 810.1 486.1C810.6 484.4 811.1 482.6 811.7 480.9C812.3 479.2 812.9 477.5 813.6 475.8C814.3 474.2 815 472.5 815.8 470.8C816.5 469.2 817.3 467.6 818.2 466C819 464.4 819.9 462.8 820.8 461.2C821.7 459.6 822.6 458.1 823.6 456.6C824.6 455.1 825.6 453.6 826.7 452.2C827.7 450.8 828.8 449.4 829.9 448C831 446.7 832.1 445.3 833.3 444.1C834.4 442.8 835.6 441.6 836.8 440.4C838 439.2 839.2 438.1 840.5 437C841.7 435.9 843 434.8 844.2 433.8C845.5 432.9 846.8 431.9 848.1 431C849.4 430.2 850.7 429.3 852 428.6C853.3 427.8 854.6 427.1 855.9 426.4C857.2 425.8 858.6 425.2 859.9 424.7C861.2 424.1 862.5 423.7 863.9 423.3C865.2 422.9 866.5 422.5 867.8 422.2C869.1 422 870.4 421.7 871.7 421.6C873 421.4 874.3 421.4 875.5 421.3C876.8 421.3 878 421.3 879.3 421.4C880.5 421.5 881.7 421.7 882.9 421.9C884.1 422.2 885.8 422.7 886.4 422.8" fill="none" stroke="#2a2a2a" stroke-width="2.58" stroke-dasharray="1.1 1.1" style="stroke-linecap:butt"/>
<path d="M855.9 557.8C855.3 557.9 853.3 558.5 852 558.7C850.7 559 849.4 559.2 848.2 559.3C846.9 559.5 845.6 559.5 844.4 559.5C843.1 559.5 841.9 559.5 840.7 559.4C839.5 559.2 838.3 559 837.1 558.8C835.9 558.6 834.8 558.2 833.6 557.9C832.5 557.5 831.4 557.1 830.3 556.6C829.3 556.1 828.2 555.5 827.2 554.9C826.2 554.3 825.2 553.6 824.2 552.9C823.3 552.1 822.4 551.3 821.5 550.5C820.6 549.6 819.8 548.7 819 547.8C818.2 546.8 817.4 545.8 816.7 544.7C816 543.7 815.3 542.6 814.6 541.4C814 540.3 813.4 539.1 812.9 537.8C812.3 536.6 811.8 535.3 811.3 533.9C810.9 532.6 810.5 531.2 810.1 529.8C809.7 528.4 809.4 527 809.1 525.5C808.9 524 808.6 522.5 808.5 521C808.3 519.4 808.2 517.9 808.1 516.3C808 514.7 808 513.1 808 511.5C808 509.8 808.1 508.2 808.2 506.5C808.3 504.8 808.5 503.2 808.7 501.5C808.9 499.8 809.2 498.1 809.5 496.4C809.8 494.7 810.2 493 810.6 491.2C811 489.5 811.4 487.8 811.9 486.1C812.4 484.4 813 482.7 813.6 481C814.1 479.3 814.8 477.6 815.4 475.9C816.1 474.3 816.8 472.6 817.6 471C818.3 469.3 819.1 467.7 820 466.1C820.8 464.5 821.7 462.9 822.6 461.4C823.5 459.8 824.4 458.3 825.4 456.8C826.4 455.3 827.4 453.9 828.4 452.4C829.5 451 830.5 449.6 831.6 448.3C832.7 446.9 833.9 445.6 835 444.3C836.2 443.1 837.3 441.9 838.5 440.7C839.7 439.5 840.9 438.4 842.2 437.3C843.4 436.2 844.6 435.2 845.9 434.2C847.2 433.2 848.4 432.3 849.7 431.4C851 430.5 852.3 429.7 853.6 428.9C854.9 428.2 856.2 427.5 857.5 426.8C858.8 426.2 860.2 425.6 861.5 425.1C862.8 424.5 864.1 424.1 865.4 423.7C866.7 423.3 868 422.9 869.3 422.6C870.6 422.4 871.9 422.1 873.2 422C874.5 421.8 875.8 421.8 877 421.7C878.3 421.7 879.5 421.7 880.7 421.8C882 421.9 883.2 422.1 884.3 422.3C885.5 422.6 887.2 423.1 887.8 423.2" fill="none" stroke="#2a2a2a" stroke-width="2.58" stroke-dasharray="1.1 1.1" style="stroke-linecap:butt"/>
<path d="M857.6 557.4C856.9 557.6 855 558.1 853.7 558.4C852.4 558.6 851.1 558.8 849.8 559C848.6 559.1 847.3 559.2 846.1 559.2C844.8 559.2 843.6 559.1 842.4 559C841.2 558.9 840 558.7 838.8 558.4C837.6 558.2 836.5 557.9 835.4 557.5C834.3 557.1 833.2 556.7 832.1 556.2C831 555.7 830 555.2 829 554.5C828 553.9 827 553.3 826 552.5C825.1 551.8 824.2 551 823.3 550.2C822.4 549.3 821.6 548.4 820.8 547.5C820 546.5 819.2 545.5 818.5 544.5C817.8 543.4 817.1 542.3 816.5 541.2C815.9 540 815.3 538.8 814.7 537.6C814.2 536.3 813.7 535 813.2 533.7C812.8 532.4 812.3 531 812 529.6C811.6 528.2 811.3 526.8 811 525.3C810.7 523.9 810.5 522.4 810.4 520.8C810.2 519.3 810 517.7 810 516.2C809.9 514.6 809.9 513 809.9 511.4C809.9 509.7 810 508.1 810.1 506.4C810.2 504.8 810.4 503.1 810.6 501.4C810.8 499.7 811.1 498.1 811.4 496.4C811.7 494.7 812 493 812.4 491.3C812.8 489.6 813.3 487.9 813.8 486.2C814.3 484.5 814.8 482.8 815.4 481.1C816 479.4 816.6 477.7 817.3 476C818 474.4 818.7 472.7 819.4 471.1C820.2 469.5 821 467.9 821.8 466.3C822.6 464.7 823.5 463.1 824.4 461.6C825.3 460 826.2 458.5 827.2 457C828.2 455.5 829.2 454.1 830.2 452.7C831.2 451.3 832.3 449.9 833.4 448.5C834.5 447.2 835.6 445.9 836.7 444.6C837.9 443.4 839.1 442.1 840.2 441C841.4 439.8 842.6 438.7 843.9 437.6C845.1 436.5 846.3 435.5 847.6 434.5C848.8 433.5 850.1 432.6 851.4 431.7C852.7 430.9 853.9 430.1 855.2 429.3C856.5 428.5 857.8 427.8 859.1 427.2C860.5 426.6 861.8 426 863.1 425.4C864.4 424.9 865.7 424.5 867 424.1C868.3 423.7 869.6 423.3 870.9 423C872.2 422.8 873.5 422.5 874.7 422.4C876 422.2 877.3 422.2 878.5 422.1C879.8 422.1 881 422.1 882.2 422.2C883.4 422.3 884.6 422.5 885.8 422.7C887 423 888.7 423.5 889.3 423.6" fill="none" stroke="#2a2a2a" stroke-width="2.58" stroke-dasharray="1.1 1.1" style="stroke-linecap:butt"/>
<path d="M859 557.1C858.4 557.2 856.4 557.8 855.1 558C853.9 558.3 852.6 558.5 851.3 558.6C850 558.8 848.8 558.8 847.6 558.8C846.3 558.8 845.1 558.8 843.9 558.7C842.7 558.5 841.5 558.4 840.3 558.1C839.2 557.9 838 557.6 836.9 557.2C835.8 556.8 834.7 556.4 833.7 555.9C832.6 555.4 831.6 554.9 830.6 554.2C829.6 553.6 828.6 553 827.6 552.2C826.7 551.5 825.8 550.7 824.9 549.9C824.1 549 823.2 548.1 822.4 547.2C821.6 546.3 820.9 545.3 820.2 544.2C819.5 543.2 818.8 542.1 818.1 540.9C817.5 539.8 816.9 538.6 816.4 537.3C815.8 536.1 815.3 534.8 814.9 533.5C814.4 532.2 814 530.8 813.6 529.5C813.3 528.1 813 526.6 812.7 525.2C812.4 523.7 812.2 522.2 812 520.7C811.9 519.2 811.7 517.6 811.6 516.1C811.6 514.5 811.5 512.9 811.6 511.3C811.6 509.7 811.7 508 811.8 506.4C811.9 504.7 812 503.1 812.3 501.4C812.5 499.7 812.7 498 813 496.3C813.4 494.7 813.7 493 814.1 491.3C814.5 489.6 815 487.9 815.4 486.2C815.9 484.5 816.5 482.8 817.1 481.1C817.6 479.5 818.3 477.8 818.9 476.1C819.6 474.5 820.3 472.8 821.1 471.2C821.8 469.6 822.6 468 823.4 466.4C824.2 464.8 825.1 463.3 826 461.7C826.9 460.2 827.8 458.7 828.8 457.2C829.8 455.7 830.8 454.3 831.8 452.9C832.8 451.5 833.9 450.1 835 448.8C836 447.4 837.2 446.1 838.3 444.9C839.4 443.6 840.6 442.4 841.8 441.2C842.9 440.1 844.1 438.9 845.4 437.9C846.6 436.8 847.8 435.8 849.1 434.8C850.3 433.8 851.6 432.9 852.8 432C854.1 431.2 855.4 430.4 856.7 429.6C858 428.9 859.3 428.2 860.6 427.5C861.9 426.9 863.2 426.3 864.5 425.8C865.8 425.3 867.1 424.8 868.4 424.4C869.7 424 871 423.7 872.3 423.4C873.6 423.1 874.8 422.9 876.1 422.7C877.4 422.6 878.6 422.5 879.9 422.5C881.1 422.5 882.3 422.5 883.5 422.6C884.8 422.7 885.9 422.9 887.1 423.1C888.3 423.3 890 423.8 890.6 424" fill="none" stroke="#2a2a2a" stroke-width="2.58" stroke-dasharray="1.1 1.1" style="stroke-linecap:butt"/>
<path d="M851.6 558.7C851 558.9 849 559.4 847.6 559.7C846.3 560 845 560.2 843.7 560.3C842.4 560.4 841.1 560.5 839.9 560.5C838.6 560.5 837.4 560.4 836.1 560.3C834.9 560.2 833.7 560 832.5 559.8C831.3 559.5 830.1 559.2 829 558.8C827.8 558.4 826.7 558 825.6 557.5C824.5 557 823.5 556.4 822.4 555.8C821.4 555.2 820.4 554.5 819.5 553.7C818.5 553 817.6 552.2 816.7 551.3C815.8 550.5 814.9 549.5 814.1 548.6C813.3 547.6 812.5 546.6 811.8 545.5C811.1 544.4 810.4 543.3 809.7 542.1C809.1 541 808.5 539.7 807.9 538.5C807.3 537.2 806.8 535.9 806.4 534.5C805.9 533.2 805.5 531.8 805.1 530.4C804.7 528.9 804.4 527.5 804.1 526C803.8 524.5 803.6 522.9 803.4 521.4C803.3 519.8 803.1 518.2 803.1 516.6C803 515 802.9 513.4 803 511.7C803 510.1 803.1 508.4 803.2 506.7C803.3 505 803.5 503.3 803.7 501.6C803.9 499.9 804.2 498.1 804.5 496.4C804.8 494.7 805.2 492.9 805.6 491.2C806 489.5 806.4 487.7 806.9 486C807.5 484.3 808 482.5 808.6 480.8C809.2 479.1 809.8 477.4 810.5 475.7C811.2 474 811.9 472.3 812.7 470.6C813.5 469 814.3 467.3 815.1 465.7C816 464.1 816.8 462.5 817.8 460.9C818.7 459.3 819.6 457.8 820.6 456.3C821.6 454.8 822.7 453.3 823.7 451.8C824.8 450.4 825.8 449 827 447.6C828.1 446.2 829.2 444.9 830.4 443.6C831.5 442.3 832.7 441.1 833.9 439.9C835.1 438.7 836.4 437.5 837.6 436.4C838.9 435.3 840.1 434.3 841.4 433.3C842.7 432.3 844 431.4 845.3 430.5C846.6 429.6 847.9 428.7 849.3 428C850.6 427.2 851.9 426.5 853.2 425.8C854.6 425.2 855.9 424.6 857.2 424C858.6 423.5 859.9 423 861.2 422.6C862.6 422.2 863.9 421.9 865.2 421.6C866.5 421.3 867.9 421.1 869.2 420.9C870.5 420.8 871.7 420.7 873 420.7C874.3 420.6 875.5 420.7 876.8 420.8C878 420.9 879.2 421 880.4 421.3C881.6 421.5 883.4 422 884 422.2" fill="none" stroke="#222" stroke-width="1.23" />
<path d="M860.3 556.8C859.6 557 857.7 557.5 856.4 557.8C855.1 558 853.9 558.2 852.6 558.3C851.3 558.5 850.1 558.5 848.9 558.6C847.6 558.6 846.4 558.5 845.2 558.4C844 558.3 842.8 558.1 841.7 557.8C840.5 557.6 839.4 557.3 838.3 556.9C837.2 556.5 836.1 556.1 835 555.6C834 555.1 832.9 554.6 831.9 554C830.9 553.4 830 552.7 829 552C828.1 551.3 827.2 550.5 826.3 549.6C825.5 548.8 824.6 547.9 823.9 547C823.1 546 822.3 545 821.6 544C820.9 542.9 820.2 541.9 819.6 540.7C819 539.6 818.4 538.4 817.8 537.2C817.3 535.9 816.8 534.7 816.3 533.3C815.9 532 815.5 530.7 815.1 529.3C814.7 527.9 814.4 526.5 814.2 525C813.9 523.6 813.7 522.1 813.5 520.6C813.3 519.1 813.2 517.5 813.1 516C813 514.4 813 512.8 813 511.2C813.1 509.6 813.1 508 813.2 506.3C813.4 504.7 813.5 503 813.7 501.4C813.9 499.7 814.2 498 814.5 496.3C814.8 494.7 815.2 493 815.6 491.3C816 489.6 816.4 487.9 816.9 486.2C817.4 484.5 817.9 482.9 818.5 481.2C819.1 479.5 819.7 477.9 820.4 476.2C821 474.6 821.7 472.9 822.5 471.3C823.2 469.7 824 468.1 824.8 466.5C825.7 465 826.5 463.4 827.4 461.9C828.3 460.3 829.2 458.8 830.2 457.4C831.2 455.9 832.1 454.5 833.2 453.1C834.2 451.7 835.2 450.3 836.3 449C837.4 447.6 838.5 446.3 839.6 445.1C840.8 443.8 841.9 442.6 843.1 441.5C844.3 440.3 845.5 439.2 846.7 438.1C847.9 437.1 849.1 436 850.4 435.1C851.6 434.1 852.9 433.2 854.1 432.3C855.4 431.5 856.7 430.7 858 429.9C859.3 429.1 860.5 428.5 861.8 427.8C863.1 427.2 864.4 426.6 865.7 426.1C867 425.6 868.3 425.1 869.6 424.7C870.9 424.3 872.2 424 873.5 423.7C874.8 423.4 876 423.2 877.3 423.1C878.5 422.9 879.8 422.8 881 422.8C882.3 422.8 883.5 422.8 884.7 422.9C885.9 423 887.1 423.2 888.2 423.4C889.4 423.6 891.1 424.1 891.7 424.3" fill="none" stroke="#222" stroke-width="1.46" />
<ellipse cx="867.7" cy="490.7" rx="71" ry="46.5" transform="rotate(-65 867.7 490.7)" fill="#fff" stroke="#222" stroke-width="1.68" />
<ellipse cx="868.7" cy="491.2" rx="65.3" ry="42.8" transform="rotate(-65 868.7 491.2)" fill="none" stroke="#222" stroke-width="1.34" />
<ellipse cx="869.2" cy="491.7" rx="60.4" ry="39.5" transform="rotate(-65 869.2 491.7)" fill="none" stroke="#222" stroke-width="1.34" />
<ellipse cx="868.7" cy="491.7" rx="40.5" ry="26.5" transform="rotate(-65 868.7 491.7)" fill="none" stroke="#222" stroke-width="1.57" />
<ellipse cx="868.7" cy="491.7" rx="35.5" ry="23.3" transform="rotate(-65 868.7 491.7)" fill="none" stroke="#222" stroke-width="1.34" />
<path d="M888 455.4L897.7 439.5" fill="none" stroke="#222" stroke-width="1.68" />
<path d="M890.6 457.4L900.4 441.5" fill="none" stroke="#222" stroke-width="1.68" />
<path d="M896.9 467.4L910.3 457.3" fill="none" stroke="#222" stroke-width="1.68" />
<path d="M897.9 471.3L911.3 461.3" fill="none" stroke="#222" stroke-width="1.68" />
<path d="M898.3 485.9L911.9 484.4" fill="none" stroke="#222" stroke-width="1.68" />
<path d="M897.4 490.7L911 489.2" fill="none" stroke="#222" stroke-width="1.68" />
<path d="M891.7 506L902 513.4" fill="none" stroke="#222" stroke-width="1.68" />
<path d="M889.2 510.3L899.4 517.7" fill="none" stroke="#222" stroke-width="1.68" />
<path d="M879 522.2L883.4 536.6" fill="none" stroke="#222" stroke-width="1.68" />
<path d="M875.5 525L879.8 539.3" fill="none" stroke="#222" stroke-width="1.68" />
<path d="M863.5 530.3L860.9 547.7" fill="none" stroke="#222" stroke-width="1.68" />
<path d="M860 530.7L857.3 548.2" fill="none" stroke="#222" stroke-width="1.68" />
<path d="M849.4 528L840.7 543.9" fill="none" stroke="#222" stroke-width="1.68" />
<path d="M846.8 526L838 541.9" fill="none" stroke="#222" stroke-width="1.68" />
<path d="M840.5 516L828.1 526.1" fill="none" stroke="#222" stroke-width="1.68" />
<path d="M839.5 512.1L827.1 522.1" fill="none" stroke="#222" stroke-width="1.68" />
<path d="M839.1 497.5L826.5 499" fill="none" stroke="#222" stroke-width="1.68" />
<path d="M840 492.7L827.4 494.2" fill="none" stroke="#222" stroke-width="1.68" />
<path d="M845.7 477.4L836.4 470" fill="none" stroke="#222" stroke-width="1.68" />
<path d="M848.2 473.1L839 465.7" fill="none" stroke="#222" stroke-width="1.68" />
<path d="M858.4 461.2L855 446.8" fill="none" stroke="#222" stroke-width="1.68" />
<path d="M861.9 458.4L858.6 444.1" fill="none" stroke="#222" stroke-width="1.68" />
<path d="M873.9 453.1L877.5 435.7" fill="none" stroke="#222" stroke-width="1.68" />
<path d="M877.4 452.7L881.1 435.2" fill="none" stroke="#222" stroke-width="1.68" />
<path d="M869.2 484.1L887.4 462.9" fill="none" stroke="#222" stroke-width="2.24" />
<path d="M872 491.2L894 482.6" fill="none" stroke="#222" stroke-width="2.24" />
<path d="M869.3 499.9L885.8 507.7" fill="none" stroke="#222" stroke-width="2.24" />
<path d="M862.6 505.2L867.6 523.4" fill="none" stroke="#222" stroke-width="2.24" />
<path d="M855.8 503.9L850 520.5" fill="none" stroke="#222" stroke-width="2.24" />
<path d="M853 496.8L843.4 500.8" fill="none" stroke="#222" stroke-width="2.24" />
<path d="M855.7 488.1L851.6 475.7" fill="none" stroke="#222" stroke-width="2.24" />
<path d="M862.4 482.8L869.8 460" fill="none" stroke="#222" stroke-width="2.24" />
<ellipse cx="868.2" cy="492.2" rx="25.6" ry="16.7" transform="rotate(-65 868.2 492.2)" fill="none" stroke="#222" stroke-width="1.46" />
<ellipse cx="862.5" cy="494" rx="12.1" ry="9.3" transform="rotate(-65 862.5 494)" fill="#fff" stroke="#222" stroke-width="1.79" />
<ellipse cx="862" cy="494.5" rx="6.4" ry="5.1" transform="rotate(-65 862 494.5)" fill="#fff" stroke="#222" stroke-width="1.46" />
<path d="M868 458L882 470" fill="none" stroke="#333" stroke-width="10.08" style="stroke-linecap:butt"/>
<path d="M868 458L882 470" fill="none" stroke="#ccc" stroke-width="7.84" stroke-dasharray="1.2 1.6" style="stroke-linecap:butt"/>
<path d="M847 507L856 516" fill="none" stroke="#333" stroke-width="8.4" style="stroke-linecap:butt"/>
<path d="M847 507L856 516" fill="none" stroke="#bbb" stroke-width="6.16" stroke-dasharray="1.2 1.6" style="stroke-linecap:butt"/>
<path d="M866 451C868 450 874.2 444.8 878 445C881.8 445.2 886.5 448.5 889 452C891.5 455.5 892.3 463.7 893 466" fill="none" stroke="#222" stroke-width="2.46" />
<path d="M886 470C886 472.3 887 479.3 886 484C885 488.7 881 495.7 880 498" fill="none" stroke="#222" stroke-width="2.02" />
<path d="M842 500C842.3 502.7 842 511.7 844 516C846 520.3 850.3 524 854 526C857.7 528 864 527.7 866 528" fill="none" stroke="#222" stroke-width="2.24" />
<path d="M850 474C849.3 476 846.7 482 846 486C845.3 490 846 496 846 498" fill="none" stroke="#222" stroke-width="1.79" />
<path d="M948.7 488.5C950 488 954 486.4 956.6 485.7C959.2 484.9 961.9 484.5 964.4 484.2C966.9 484 969.4 484 971.7 484.2C974.1 484.5 976.4 485 978.6 485.7C980.7 486.4 982.8 487.4 984.6 488.6C986.5 489.8 988.3 491.2 989.8 492.8C991.4 494.4 992.8 496.2 994.1 498.2C995.3 500.2 996.3 502.4 997.2 504.7C998 507 998.7 509.6 999.1 512.2C999.6 514.8 999.8 517.5 999.9 520.3C999.9 523.2 999.7 526.1 999.4 529.1C999 532 998.4 535.1 997.7 538.1C996.9 541.1 995.9 544.2 994.8 547.2C993.7 550.2 992.3 553.3 990.8 556.2C989.3 559.2 987.7 562.1 985.9 564.9C984.1 567.7 982.1 570.4 980.1 573C978 575.5 975.8 578 973.5 580.3C971.2 582.6 968.9 584.7 966.4 586.7C964 588.6 961.5 590.4 959 592C956.4 593.6 953.9 594.9 951.3 596.1C948.7 597.2 946.2 598.2 943.6 598.8C941.1 599.5 938.6 600 936.2 600.2C933.7 600.4 931.3 600.4 929.1 600.2C926.8 599.9 924.6 599.5 922.5 598.7C920.4 598 918.5 597.1 916.7 595.9C914.8 594.8 913.2 593.4 911.7 591.8C910.2 590.3 908.8 588.5 907.6 586.5C906.5 584.6 905.5 582.4 904.7 580.2C903.9 577.9 903.3 575.4 902.8 572.9C902.4 570.4 902.2 567.7 902.2 564.9C902.2 562.2 902.4 559.3 902.8 556.4C903.1 553.5 903.7 550.5 904.5 547.6C905.2 544.6 906.2 541.6 907.3 538.7C908.5 535.7 909.8 532.8 911.2 529.9C912.7 527 914.4 524.2 916.1 521.4C917.9 518.7 919.8 516 921.8 513.5C923.8 511 926 508.6 928.2 506.4C930.4 504.1 932.8 502 935.1 500.1C937.5 498.2 940 496.4 942.4 494.9C944.9 493.4 947.4 492 949.9 490.9C952.4 489.8 954.9 488.9 957.3 488.2C959.8 487.5 962.3 487 964.6 486.8C967 486.6 969.3 486.6 971.5 486.8C973.7 487 975.9 487.5 977.9 488.2C979.9 488.8 981.8 489.7 983.6 490.9C985.3 492 986.9 493.3 988.4 494.8C989.9 496.3 991.2 498 992.3 499.9C993.4 501.8 994.4 503.9 995.2 506.1C995.9 508.3 996.5 510.6 996.9 513.1C997.3 515.6 997.5 518.2 997.5 520.8C997.5 523.5 997.4 526.3 997 529.1C996.6 531.9 996.1 534.7 995.3 537.6C994.6 540.5 993.6 543.4 992.5 546.2C991.4 549.1 990.2 552 988.7 554.8C987.3 557.5 985.7 560.3 984 562.9C982.3 565.6 980.4 568.2 978.5 570.6C976.5 573 974.5 575.4 972.3 577.5C970.2 579.7 967.9 581.8 965.6 583.6C963.3 585.5 960.9 587.1 958.6 588.6C956.2 590.1 953.8 591.4 951.4 592.5C949 593.6 946.5 594.5 944.2 595.1C941.8 595.8 939.4 596.2 937.2 596.4C934.9 596.7 932.6 596.7 930.5 596.4C928.4 596.2 926.3 595.8 924.4 595.1C922.5 594.4 920.6 593.5 918.9 592.5C917.3 591.4 915.7 590.1 914.3 588.6C912.9 587.1 911.7 585.4 910.6 583.6C909.5 581.8 908.6 579.7 907.9 577.6C907.2 575.4 906.6 573.1 906.3 570.7C905.9 568.3 905.7 565.8 905.7 563.2C905.7 560.6 905.9 557.9 906.3 555.2C906.7 552.5 907.3 549.6 908 546.9C908.8 544.1 909.7 541.2 910.8 538.4C911.9 535.6 913.1 532.8 914.5 530.1C915.9 527.4 917.5 524.7 919.2 522.1C920.8 519.6 922.6 517.1 924.6 514.7C926.5 512.3 928.5 510 930.6 507.9C932.7 505.8 934.9 503.8 937.1 502C939.4 500.2 941.7 498.5 944 497.1C946.3 495.6 948.7 494.3 951 493.3C953.3 492.2 955.7 491.3 958 490.7C960.3 490 962.6 489.6 964.8 489.4C967 489.1 969.2 489.1 971.3 489.3C973.3 489.5 975.3 490 977.2 490.6C979.1 491.2 980.8 492.1 982.5 493.1C984.1 494.2 985.6 495.4 987 496.8C988.3 498.3 989.5 499.9 990.6 501.7C991.6 503.4 992.5 505.4 993.2 507.4C993.9 509.5 994.4 511.7 994.7 514.1C995.1 516.4 995.3 518.8 995.2 521.3C995.2 523.8 995 526.5 994.7 529.1C994.3 531.7 993.7 534.4 993 537.1C992.3 539.8 991.4 542.6 990.3 545.3C989.3 548 988.1 550.7 986.7 553.3C985.4 555.9 983.8 558.5 982.2 561C980.6 563.5 978.8 566 977 568.3C975.2 570.6 973.2 572.8 971.2 574.8C969.1 576.9 967 578.8 964.9 580.5C962.7 582.3 960.5 583.9 958.2 585.3C956 586.7 953.7 587.9 951.5 588.9C949.2 590 947 590.8 944.7 591.4C942.5 592.1 940.3 592.5 938.2 592.7C936.1 592.9 934 592.9 932 592.7C930 592.5 928.1 592.1 926.3 591.4C924.5 590.8 922.8 590 921.3 589C919.7 588 918.3 586.7 917 585.3C915.7 584 914.5 582.4 913.6 580.7C912.6 578.9 911.7 577 911.1 575C910.4 573 909.9 570.8 909.6 568.6C909.3 566.3 909.2 563.9 909.2 561.5C909.3 559.1 909.5 556.5 909.8 553.9C910.2 551.4 910.8 548.7 911.5 546.1C912.2 543.5 913.1 540.8 914.2 538.2C915.2 535.6 916.4 532.9 917.7 530.4C919.1 527.8 920.5 525.3 922.1 522.8C923.7 520.4 925.4 518 927.2 515.8C929 513.6 930.9 511.4 932.9 509.4C934.9 507.4 937 505.5 939.1 503.8C941.2 502.1 943.3 500.6 945.5 499.2C947.7 497.8 949.9 496.6 952.1 495.6C954.3 494.6 956.5 493.8 958.6 493.2C960.8 492.5 962.9 492.1 965 491.9C967 491.7 969 491.7 971 491.9C972.9 492 974.7 492.4 976.5 493C978.2 493.6 979.9 494.4 981.4 495.4C982.9 496.4 984.3 497.5 985.5 498.9C986.7 500.2 987.9 501.7 988.8 503.4C989.8 505 990.6 506.9 991.2 508.8C991.8 510.7 992.3 512.8 992.6 515C992.9 517.2 993 519.5 993 521.8C992.9 524.2 992.7 526.7 992.4 529.1C992 531.6 991.4 534.2 990.8 536.7C990.1 539.2 989.2 541.8 988.2 544.3C987.2 546.9 986 549.4 984.7 551.9C983.5 554.4 982 556.8 980.5 559.1C979 561.5 977.3 563.8 975.6 565.9C973.8 568.1 972 570.2 970.1 572.1C968.2 574 966.2 575.8 964.2 577.5C962.1 579.1 960.1 580.6 958 582C955.9 583.3 953.7 584.4 951.6 585.4C949.5 586.4 947.4 587.2 945.4 587.8C943.3 588.4 941.2 588.8 939.3 589C937.3 589.2 935.4 589.2 933.5 589C931.7 588.8 929.9 588.4 928.2 587.8C926.6 587.2 925 586.5 923.6 585.5C922.1 584.6 920.8 583.4 919.6 582.1C918.4 580.8 917.4 579.3 916.5 577.7C915.6 576.1 914.9 574.3 914.3 572.4C913.7 570.6 913.2 568.5 913 566.4C912.7 564.3 912.6 562.1 912.7 559.8C912.7 557.5 912.9 555.1 913.3 552.7C913.7 550.3 914.3 547.8 914.9 545.3C915.6 542.9 916.5 540.4 917.5 537.9C918.5 535.4 919.6 533 920.9 530.6C922.1 528.2 923.5 525.8 925 523.5C926.5 521.2 928.1 519 929.8 516.9C931.5 514.8 933.3 512.8 935.2 510.9C937 509 939 507.3 940.9 505.7C942.9 504.1 944.9 502.6 946.9 501.3C949 500 951 498.9 953.1 497.9C955.1 497 957.2 496.2 959.2 495.6C961.2 495 963.2 494.6 965.1 494.4C967 494.2 968.9 494.2 970.6 494.4C972.4 494.5 974.1 494.9 975.7 495.4C977.3 496 978.9 496.7 980.2 497.6C981.6 498.5 982.9 499.6 984.1 500.9C985.2 502.1 986.2 503.5 987.1 505.1C987.9 506.6 988.7 508.4 989.2 510.2C989.8 512 990.2 513.9 990.5 516C990.7 518 990.8 520.2 990.8 522.4C990.7 524.6 990.5 526.9 990.1 529.2C989.7 531.5 989.2 533.9 988.5 536.2C987.9 538.6 987.1 541 986.1 543.4C985.1 545.8 984 548.2 982.8 550.5C981.6 552.8 980.3 555.1 978.8 557.3C977.4 559.5 975.8 561.6 974.2 563.6C972.6 565.7 970.8 567.6 969.1 569.4C967.3 571.2 965.4 572.9 963.5 574.5C961.6 576 959.7 577.4 957.8 578.6C955.8 579.9 953.8 581 951.9 581.9C949.9 582.8 948 583.5 946 584.1C944.1 584.7 942.2 585 940.4 585.2C938.6 585.4 936.8 585.4 935.1 585.3C933.4 585.1 931.7 584.7 930.2 584.2C928.7 583.7 927.2 582.9 925.9 582.1C924.6 581.2 923.4 580.1 922.3 578.9C921.2 577.7 920.3 576.3 919.4 574.8C918.6 573.3 918 571.6 917.4 569.9C916.9 568.1 916.5 566.2 916.3 564.2C916.1 562.3 916 560.2 916.1 558C916.2 555.9 916.4 553.7 916.8 551.4C917.1 549.2 917.7 546.9 918.3 544.6C919 542.3 919.8 539.9 920.7 537.6C921.7 535.3 922.8 533 924 530.8C925.1 528.5 926.5 526.3 927.9 524.2C929.3 522 930.8 520 932.4 518C934 516 935.6 514.1 937.4 512.4C939.1 510.6 940.9 509 942.7 507.5C944.6 506 946.5 504.6 948.3 503.4C950.2 502.2 952.1 501.1 954 500.2C955.9 499.3 957.8 498.6 959.7 498.1C961.5 497.5 963.4 497.1 965.1 496.9C966.9 496.7 968.6 496.7 970.3 496.9C971.9 497 973.5 497.3 975 497.9C976.4 498.4 977.8 499 979.1 499.9C980.4 500.7 981.6 501.7 982.6 502.9C983.6 504.1 984.6 505.4 985.3 506.8C986.1 508.3 986.8 509.8 987.3 511.5C987.8 513.2 988.1 515 988.4 516.9C988.6 518.8 988.6 520.8 988.6 522.9C988.5 524.9 988.3 527.1 987.9 529.2C987.6 531.4 987 533.6 986.4 535.8C985.8 538 985 540.3 984.1 542.5C983.2 544.7 982.1 546.9 981 549.1C979.9 551.2 978.6 553.4 977.2 555.4C975.9 557.5 974.4 559.5 972.9 561.3C971.4 563.2 969.8 565.1 968.1 566.7C966.5 568.4 964.7 570 963 571.4C961.2 572.9 959.4 574.2 957.6 575.4C955.8 576.5 954 577.5 952.2 578.4C950.4 579.2 948.5 579.9 946.8 580.5C945 581 943.2 581.3 941.5 581.5C939.9 581.7 938.2 581.7 936.6 581.6C935.1 581.4 933.6 581.1 932.2 580.6C930.8 580.1 929.5 579.4 928.2 578.6C927 577.8 925.9 576.8 925 575.7C924 574.6 923.1 573.3 922.4 571.9C921.6 570.5 921 568.9 920.6 567.3C920.1 565.7 919.8 563.9 919.6 562.1C919.4 560.2 919.4 558.3 919.4 556.3C919.5 554.3 919.8 552.2 920.1 550.2C920.5 548.1 921 545.9 921.7 543.8C922.3 541.6 923.1 539.5 924 537.3C924.8 535.2 925.9 533 927 530.9C928.1 528.9 929.3 526.8 930.6 524.8C931.9 522.8 933.4 520.9 934.8 519.1C936.3 517.2 937.9 515.5 939.5 513.8C941.1 512.2 942.8 510.7 944.5 509.3C946.2 507.9 947.9 506.6 949.7 505.5C951.4 504.3 953.2 503.3 954.9 502.5C956.7 501.7 958.4 501 960.1 500.5C961.8 500 963.5 499.6 965.2 499.4C966.8 499.2 968.4 499.2 969.9 499.3C971.4 499.5 972.8 499.8 974.2 500.2C975.5 500.7 976.8 501.3 978 502.1C979.1 502.9 980.2 503.8 981.1 504.9C982.1 506 982.9 507.2 983.6 508.5C984.3 509.9 984.9 511.3 985.3 512.9C985.8 514.5 986.1 516.2 986.3 517.9C986.5 519.7 986.5 521.5 986.4 523.4C986.3 525.3 986.1 527.3 985.8 529.3C985.4 531.3 984.9 533.4 984.3 535.4C983.7 537.5 983 539.6 982.1 541.6C981.3 543.6 980.3 545.7 979.2 547.7C978.1 549.7 977 551.7 975.7 553.6C974.5 555.5 973.1 557.3 971.7 559.1C970.3 560.8 968.8 562.5 967.2 564.1C965.7 565.6 964.1 567.1 962.5 568.5C960.9 569.8 959.2 571 957.5 572.1C955.9 573.2 954.2 574.1 952.5 574.9C950.8 575.7 949.2 576.4 947.5 576.8C945.9 577.3 944.3 577.7 942.8 577.8C941.2 578 939.7 578 938.3 577.9C936.8 577.7 935.5 577.4 934.2 577C932.9 576.5 931.2 575.5 930.6 575.2" fill="none" stroke="#222" stroke-width="1.29" />
<path d="M932.1 573C931.6 572.5 930.1 571.2 929.3 570.1C928.5 569 927.8 567.8 927.3 566.5C926.7 565.2 926.2 563.8 925.9 562.3C925.6 560.8 925.4 559.3 925.3 557.7C925.2 556 925.2 554.4 925.4 552.7C925.5 551 925.8 549.2 926.2 547.4C926.6 545.7 927.1 543.9 927.7 542.1C928.3 540.4 929 538.6 929.8 536.9C930.6 535.2 931.5 533.5 932.4 531.8C933.4 530.2 934.5 528.6 935.6 527.1C936.7 525.6 937.9 524.1 939.1 522.8C940.3 521.4 941.6 520.1 942.9 519C944.2 517.8 945.6 516.7 946.9 515.7C948.3 514.8 949.7 513.9 951 513.2C952.4 512.5 953.8 511.9 955.1 511.4C956.4 510.9 957.8 510.5 959 510.3C960.3 510 961.6 509.9 962.8 509.9C964 509.9 965.2 510.1 966.2 510.3C967.3 510.6 968.4 510.9 969.3 511.4C970.3 511.9 971.2 512.5 972 513.2C972.7 513.9 973.5 514.6 974.1 515.5C974.7 516.4 975.3 517.4 975.7 518.4C976.1 519.4 976.5 520.6 976.7 521.7C977 522.9 977.2 524.1 977.2 525.4C977.3 526.7 977.3 528 977.1 529.3C977 530.6 976.8 532 976.5 533.4C976.2 534.7 975.8 536.1 975.4 537.4C974.9 538.8 974.4 540.1 973.8 541.4C973.2 542.7 972.5 544 971.8 545.3C971.1 546.5 970.3 547.7 969.4 548.8C968.6 550 967.7 551 966.8 552C965.9 553.1 965 554 964 554.9C963.1 555.7 962.1 556.5 961.1 557.2C960.1 557.9 959.1 558.5 958.1 559C957.1 559.5 956.1 560 955.2 560.3C954.2 560.6 953.3 560.9 952.4 561C951.4 561.2 950.6 561.2 949.7 561.2C948.9 561.2 948.1 561.1 947.3 560.8C946.6 560.6 945.9 560.3 945.2 560C944.6 559.6 944 559.1 943.5 558.6C943 558.1 942.5 557.5 942.1 556.9C941.7 556.2 941.4 555.5 941.1 554.7C940.9 554 940.7 553.2 940.5 552.3C940.4 551.5 940.4 550.6 940.4 549.7C940.4 548.8 940.5 547.9 940.6 547C940.7 546 941 545.1 941.2 544.1C941.5 543.2 941.8 542.3 942.2 541.4C942.5 540.4 943 539.5 943.4 538.6C943.9 537.8 944.4 536.9 944.9 536.1C945.5 535.3 946.1 534.5 946.7 533.8C947.3 533 947.9 532.3 948.6 531.7C949.2 531.1 949.9 530.5 950.5 529.9C951.2 529.4 951.9 528.9 952.6 528.5C953.3 528.1 953.9 527.8 954.6 527.5C955.3 527.2 955.9 527 956.6 526.8C957.2 526.7 957.8 526.6 958.4 526.5C959 526.5 959.6 526.5 960.1 526.6C960.6 526.7 961.2 526.8 961.6 527C962.1 527.2 962.5 527.4 962.9 527.7C963.3 528 963.6 528.3 964 528.7C964.3 529.1 964.5 529.5 964.7 529.9C965 530.3 965.1 530.8 965.3 531.3C965.4 531.8 965.5 532.3 965.5 532.9C965.6 533.4 965.6 533.9 965.6 534.5C965.5 535 965.5 535.6 965.4 536.1C965.3 536.7 965.1 537.2 964.9 537.8C964.8 538.3 964.6 538.9 964.3 539.4C964.1 539.9 963.9 540.4 963.6 540.8C963.3 541.3 963 541.7 962.7 542.2C962.4 542.6 961.9 543.1 961.8 543.3" fill="none" stroke="#222" stroke-width="5.15" />
<path d="M932.1 573C931.6 572.5 930.1 571.2 929.3 570.1C928.5 569 927.8 567.8 927.3 566.5C926.7 565.2 926.2 563.8 925.9 562.3C925.6 560.8 925.4 559.3 925.3 557.7C925.2 556 925.2 554.4 925.4 552.7C925.5 551 925.8 549.2 926.2 547.4C926.6 545.7 927.1 543.9 927.7 542.1C928.3 540.4 929 538.6 929.8 536.9C930.6 535.2 931.5 533.5 932.4 531.8C933.4 530.2 934.5 528.6 935.6 527.1C936.7 525.6 937.9 524.1 939.1 522.8C940.3 521.4 941.6 520.1 942.9 519C944.2 517.8 945.6 516.7 946.9 515.7C948.3 514.8 949.7 513.9 951 513.2C952.4 512.5 953.8 511.9 955.1 511.4C956.4 510.9 957.8 510.5 959 510.3C960.3 510 961.6 509.9 962.8 509.9C964 509.9 965.2 510.1 966.2 510.3C967.3 510.6 968.4 510.9 969.3 511.4C970.3 511.9 971.2 512.5 972 513.2C972.7 513.9 973.5 514.6 974.1 515.5C974.7 516.4 975.3 517.4 975.7 518.4C976.1 519.4 976.5 520.6 976.7 521.7C977 522.9 977.2 524.1 977.2 525.4C977.3 526.7 977.3 528 977.1 529.3C977 530.6 976.8 532 976.5 533.4C976.2 534.7 975.8 536.1 975.4 537.4C974.9 538.8 974.4 540.1 973.8 541.4C973.2 542.7 972.5 544 971.8 545.3C971.1 546.5 970.3 547.7 969.4 548.8C968.6 550 967.7 551 966.8 552C965.9 553.1 965 554 964 554.9C963.1 555.7 962.1 556.5 961.1 557.2C960.1 557.9 959.1 558.5 958.1 559C957.1 559.5 956.1 560 955.2 560.3C954.2 560.6 953.3 560.9 952.4 561C951.4 561.2 950.6 561.2 949.7 561.2C948.9 561.2 948.1 561.1 947.3 560.8C946.6 560.6 945.9 560.3 945.2 560C944.6 559.6 944 559.1 943.5 558.6C943 558.1 942.5 557.5 942.1 556.9C941.7 556.2 941.4 555.5 941.1 554.7C940.9 554 940.7 553.2 940.5 552.3C940.4 551.5 940.4 550.6 940.4 549.7C940.4 548.8 940.5 547.9 940.6 547C940.7 546 941 545.1 941.2 544.1C941.5 543.2 941.8 542.3 942.2 541.4C942.5 540.4 943 539.5 943.4 538.6C943.9 537.8 944.4 536.9 944.9 536.1C945.5 535.3 946.1 534.5 946.7 533.8C947.3 533 947.9 532.3 948.6 531.7C949.2 531.1 949.9 530.5 950.5 529.9C951.2 529.4 951.9 528.9 952.6 528.5C953.3 528.1 953.9 527.8 954.6 527.5C955.3 527.2 955.9 527 956.6 526.8C957.2 526.7 957.8 526.6 958.4 526.5C959 526.5 959.6 526.5 960.1 526.6C960.6 526.7 961.2 526.8 961.6 527C962.1 527.2 962.5 527.4 962.9 527.7C963.3 528 963.6 528.3 964 528.7C964.3 529.1 964.5 529.5 964.7 529.9C965 530.3 965.1 530.8 965.3 531.3C965.4 531.8 965.5 532.3 965.5 532.9C965.6 533.4 965.6 533.9 965.6 534.5C965.5 535 965.5 535.6 965.4 536.1C965.3 536.7 965.1 537.2 964.9 537.8C964.8 538.3 964.6 538.9 964.3 539.4C964.1 539.9 963.9 540.4 963.6 540.8C963.3 541.3 963 541.7 962.7 542.2C962.4 542.6 961.9 543.1 961.8 543.3" fill="none" stroke="#fff" stroke-width="2.69" />
<ellipse cx="961.8" cy="543.3" rx="2.2" ry="3.2" transform="rotate(20 961.8 543.3)" fill="#bbb" stroke="#222" stroke-width="1.34" />
<path d="M946.5 481.5L952 476L962.5 479.5L957 485.5Z" fill="#fff" stroke="#222" stroke-width="1.46" />
<path d="M875.7 548.2C875.2 550.7 873.6 557.9 872.3 563.2C871.1 568.5 869.2 574.1 868.2 580.1C867.3 586 866.1 592.9 866.7 598.8C867.3 604.8 868.5 610.6 871.6 615.7C874.7 620.9 880.4 626.2 885.1 629.8C889.9 633.4 895.7 635.8 900.1 637.3C904.5 638.8 906.4 639.7 911.4 638.6C916.4 637.6 922.3 633.6 930.2 631.1C938 628.6 948.9 624.9 958.3 623.8C967.7 622.7 978.2 623.4 986.5 624.4C994.7 625.4 1004.4 628.9 1008 629.8" fill="none" stroke="#222" stroke-width="7.39" style="stroke-linecap:butt"/>
<path d="M875.7 548.2C875.2 550.7 873.6 557.9 872.3 563.2C871.1 568.5 869.2 574.1 868.2 580.1C867.3 586 866.1 592.9 866.7 598.8C867.3 604.8 868.5 610.6 871.6 615.7C874.7 620.9 880.4 626.2 885.1 629.8C889.9 633.4 895.7 635.8 900.1 637.3C904.5 638.8 906.4 639.7 911.4 638.6C916.4 637.6 922.3 633.6 930.2 631.1C938 628.6 948.9 624.9 958.3 623.8C967.7 622.7 978.2 623.4 986.5 624.4C994.7 625.4 1004.4 628.9 1008 629.8" fill="none" stroke="#fff" stroke-width="3.58" style="stroke-linecap:butt"/>
<path d="M875.7 548.2C875.2 550.7 873.6 557.9 872.3 563.2C871.1 568.5 869.2 574.1 868.2 580.1C867.3 586 867 595.7 866.7 598.8" fill="none" stroke="#999" stroke-width="3.81" stroke-dasharray="1.5 2.5" style="stroke-linecap:butt"/>
<path d="M930.2 631.1C934.8 629.9 948.9 624.9 958.3 623.8C967.7 622.7 978.2 623.4 986.5 624.4C994.7 625.4 1004.4 628.9 1008 629.8" fill="none" stroke="#888" stroke-width="1.12" stroke-dasharray="4 3"/>
<path d="M975.1 674.1C976.7 673.9 981.4 674.2 984.5 672.8C987.6 671.4 990.4 668.9 993.9 665.7C997.3 662.4 1001.1 656.5 1005.1 653.5C1009.2 650.4 1014.2 648.3 1018.3 647.3C1022.3 646.2 1026.6 646.6 1029.5 647.3C1032.5 647.9 1035 650.4 1036.1 651" fill="none" stroke="#222" stroke-width="7.17" style="stroke-linecap:butt"/>
<path d="M975.1 674.1C976.7 673.9 981.4 674.2 984.5 672.8C987.6 671.4 990.4 668.9 993.9 665.7C997.3 662.4 1001.1 656.5 1005.1 653.5C1009.2 650.4 1014.2 648.3 1018.3 647.3C1022.3 646.2 1026.6 646.6 1029.5 647.3C1032.5 647.9 1035 650.4 1036.1 651" fill="none" stroke="#fff" stroke-width="3.47" style="stroke-linecap:butt"/>
<path d="M955.5 661.2L962.5 670" fill="none" stroke="#222" stroke-width="5.15" />
<path d="M956 661.8L962.2 669.6" fill="none" stroke="#fff" stroke-width="2.24" />
<path d="M959 672C959.6 670.8 960.7 669.3 962 669C963.3 668.7 965.8 669 967 670C968.2 671 969.2 673.3 969 675C968.8 676.7 967.3 679.2 966 680C964.7 680.8 962.2 680.6 961 680C959.8 679.4 958.8 677.8 958.5 676.5C958.2 675.2 958.4 673.2 959 672Z" fill="none" stroke="#222" stroke-width="1.9" />
<path d="M960 673.5C960.6 673.8 962.3 674.2 963.5 675C964.7 675.8 966.4 677.9 967 678.5" fill="none" stroke="#222" stroke-width="1.79" />
<path d="M968 667C968.7 666.6 970.7 664.7 972 664.5C973.3 664.3 975.2 664.8 976 666C976.8 667.2 977.2 670 977 672C976.8 674 976 676.4 975 678C974 679.6 972.3 681.2 971 681.5C969.7 681.8 967.7 680.2 967 680" fill="none" stroke="#222" stroke-width="1.9" />
<path d="M969 670C969.2 670.8 969.2 673.5 970 675C970.8 676.5 973.3 678.3 974 679" fill="none" stroke="#222" stroke-width="1.79" />
<path d="M963 671C963.5 670.5 964.8 668.6 966 668C967.2 667.4 969.3 667.6 970 667.5" fill="none" stroke="#222" stroke-width="1.68" />
<path d="M901 672C902.2 668.8 903.2 667.4 905 666C906.8 664.6 909.7 664 912 663.8C914.3 663.6 917.3 664 919 665C920.7 666 921.6 667.4 922.2 669.5C922.8 671.6 922.4 675.8 922.8 677.5C923.2 679.2 924.1 680.8 924.5 680C924.9 679.2 924.5 675.5 925.2 673C926 670.5 927.4 666.9 929 665C930.6 663.1 932.7 661.8 935 661.5C937.3 661.2 940.9 662.1 943 663.5C945.1 664.9 947 667.9 947.5 670C948 672.1 947.2 674.3 946 676C944.8 677.7 942 678.4 940 680.2C938 682 935.8 684.5 934 687C932.2 689.5 930.2 692.5 929.2 695C928.2 697.5 928 699.3 928 702C928 704.7 929.1 708.2 929.5 711C929.9 713.8 930.9 716.7 930.5 719C930.1 721.3 928.8 723.3 927 725C925.2 726.7 922.8 728.2 920 729C917.2 729.8 912.7 730.2 910 729.5C907.3 728.8 905.7 727.4 904 725C902.3 722.6 901 719.2 900 715C899 710.8 898.4 705 898 700C897.6 695 897.1 689.7 897.6 685C898.1 680.3 899.8 675.2 901 672Z" fill="none" stroke="#222" stroke-width="1.9" />
<path d="M931 666.2C932.2 666.8 936 668.2 938 670C940 671.8 942.3 675.7 943.2 676.8" fill="none" stroke="#222" stroke-width="1.68" />
<path d="M928.8 668.2C930 668.9 933.8 670.4 935.8 672.2C937.8 674 940 678 940.8 679.2" fill="none" stroke="#222" stroke-width="1.46" />
<path d="M919 665C919.3 665.8 920.5 668.1 921 670C921.5 671.9 922 675.4 922.2 676.5" fill="none" stroke="#222" stroke-width="1.34" />
<path d="M918.5 665.5C917.8 667.1 915 671.4 914 675C913 678.6 912.6 682 912.5 687C912.4 692 912.6 698.7 913.5 705C914.4 711.3 917.2 721.7 918 725" fill="none" stroke="#222" stroke-width="1.57" />
<path d="M905 667.5C904.4 669.8 902.1 675.6 901.5 681C900.9 686.4 900.9 694.2 901.2 700C901.5 705.8 902.4 711.6 903.5 716C904.6 720.4 907.2 724.8 908 726.5" fill="none" stroke="#222" stroke-width="1.34" />
<path d="M901.2 680.5L910.5 680L911.5 690.5L901.8 691.5Z" fill="none" stroke="#222" stroke-width="1.68" />
<path d="M902.5 684L909.5 689.5" fill="none" stroke="#222" stroke-width="1.34" />
<path d="M903.5 713.5L912.8 713L914 721.5L905 724Z" fill="none" stroke="#222" stroke-width="1.68" />
<path d="M907 715L908.5 722" fill="none" stroke="#222" stroke-width="1.34" />
<path d="M901.5 696L911.5 695.5" fill="none" stroke="#222" stroke-width="1.23" />
<path d="M902 707L912.5 707" fill="none" stroke="#222" stroke-width="1.23" />
<path d="M914.8 686L920 687.6" fill="none" stroke="#222" stroke-width="1.46" />
<path d="M915.2 689.6L920.4 691.2" fill="none" stroke="#222" stroke-width="1.46" />
<path d="M915.6 693.2L920.8 694.8" fill="none" stroke="#222" stroke-width="1.46" />
<path d="M916 696.8L921.2 698.4" fill="none" stroke="#222" stroke-width="1.46" />
<path d="M916.4 700.4L921.6 702" fill="none" stroke="#222" stroke-width="1.46" />
<path d="M916.8 704L922 705.6" fill="none" stroke="#222" stroke-width="1.46" />
<path d="M917.2 707.6L922.4 709.2" fill="none" stroke="#222" stroke-width="1.46" />
<path d="M917.6 711.2L922.8 712.8" fill="none" stroke="#222" stroke-width="1.46" />
<path d="M918 714.8L923.2 716.4" fill="none" stroke="#222" stroke-width="1.46" />
<path d="M916.2 685C916.7 687.8 917.9 696.3 919 702C920.1 707.7 922.3 716.2 923 719" fill="none" stroke="#222" stroke-width="1.23" />
<ellipse cx="921.8" cy="715" rx="1.6" ry="3" transform="rotate(20 921.8 715)" fill="#666" stroke="#222" stroke-width="1.12" />
<path d="M1193.5 612L1207 619.3" fill="none" stroke="#222" stroke-width="4.7" style="stroke-linecap:round"/>
<path d="M1194.5 612.5L1206 618.8" fill="none" stroke="#aaa" stroke-width="1.46" stroke-dasharray="1.6 1.2" style="stroke-linecap:butt"/>
<ellipse cx="1208.8" cy="621.2" rx="4.6" ry="7.6" transform="rotate(-28 1208.8 621.2)" fill="#777" stroke="#222" stroke-width="1.57" />
<path d="M1208.5 614C1209.5 611.7 1213.2 612.9 1215 613.5C1216.8 614.1 1218.5 615.9 1219.5 617.5C1220.5 619.1 1221 621.2 1220.8 623C1220.5 624.8 1219.4 626.9 1218 628C1216.6 629.1 1214 629.6 1212.5 629.5C1211 629.4 1209.7 630.1 1209 627.5C1208.3 624.9 1207.5 616.3 1208.5 614Z" fill="#555" stroke="#222" stroke-width="1.68" />
<path d="M1214.2 624C1214.9 623.1 1217.4 622.2 1218.2 622.3C1219 622.4 1219.5 623.6 1219.2 624.5C1218.9 625.4 1217.4 627.2 1216.5 627.7C1215.6 628.2 1214.2 628.1 1213.8 627.5C1213.4 626.9 1213.5 624.9 1214.2 624Z" fill="#fff" stroke="#888" stroke-width="0.67" />
<path d="M1210.5 617.5L1217.5 618.5" fill="none" stroke="#ddd" stroke-width="1.23" />
<path d="M1211 621L1215 622" fill="none" stroke="#bbb" stroke-width="1.01" />
<path d="M1104 728.5L1117.5 735.8" fill="none" stroke="#222" stroke-width="4.7" style="stroke-linecap:round"/>
<path d="M1105 729L1116.5 735.3" fill="none" stroke="#aaa" stroke-width="1.46" stroke-dasharray="1.6 1.2" style="stroke-linecap:butt"/>
<ellipse cx="1119.3" cy="737.7" rx="4.6" ry="7.6" transform="rotate(-28 1119.3 737.7)" fill="#777" stroke="#222" stroke-width="1.57" />
<path d="M1119 730.5C1120 728.2 1123.7 729.4 1125.5 730C1127.3 730.6 1129 732.4 1130 734C1131 735.6 1131.5 737.8 1131.3 739.5C1131 741.2 1129.9 743.4 1128.5 744.5C1127.1 745.6 1124.5 746.1 1123 746C1121.5 745.9 1120.2 746.6 1119.5 744C1118.8 741.4 1118 732.8 1119 730.5Z" fill="#555" stroke="#222" stroke-width="1.68" />
<path d="M1124.7 740.5C1125.4 739.6 1127.9 738.7 1128.7 738.8C1129.5 738.9 1130 740.1 1129.7 741C1129.4 741.9 1127.9 743.7 1127 744.2C1126.1 744.7 1124.7 744.6 1124.3 744C1123.9 743.4 1124 741.4 1124.7 740.5Z" fill="#fff" stroke="#888" stroke-width="0.67" />
<path d="M1121 734L1128 735" fill="none" stroke="#ddd" stroke-width="1.23" />
<path d="M1121.5 737.5L1125.5 738.5" fill="none" stroke="#bbb" stroke-width="1.01" />
<path d="M677.8 159.5C679.7 158.3 686.6 153.3 689.2 152.2C691.8 151.1 691.3 152.1 693.2 153C695.1 153.9 697.7 155.3 700.6 157.5C703.4 159.7 708.3 163.5 710.3 166C712.4 168.5 712.8 170.5 712.9 172.5C713.1 174.6 712.3 176.1 711.1 178.2C710 180.4 707.5 183.7 706.3 185.6C705 187.5 704.2 189 703.8 189.6" fill="none" stroke="#222" stroke-width="1.75" />
<path d="M679.4 160.3C681 159.5 686.9 156.1 689.2 155.5C691.5 154.8 692.6 156.1 693.2 156.3" fill="none" stroke="#222" stroke-width="1.38" />
<path d="M683.5 160.7C685.1 161.4 690.1 162.6 693.2 164.4C696.4 166.2 699.9 169.3 702.2 171.7C704.5 174.2 706.3 176.8 707.1 179.1C707.9 181.4 707.1 184.5 707.1 185.6" fill="none" stroke="#222" stroke-width="1.62" />
<path d="M689.2 157.5C690.8 158.2 696 160 698.9 162C701.9 163.9 705 166.9 707.1 169.3C709.1 171.7 710.5 175.4 711.1 176.6" fill="none" stroke="#222" stroke-width="1.5" />
<path d="M661.5 163.2C661.2 160.2 662.9 158.5 665.6 158.1C668.3 157.6 673.4 158.7 677.8 160.3C682.1 161.9 687.8 165 691.6 167.7C695.4 170.4 698.6 173.6 700.6 176.6C702.5 179.6 703.4 183.1 703.2 185.6C702.9 188 701.3 190.6 698.9 191.4C696.6 192.3 692.4 191.6 689.2 190.6C685.9 189.6 683.1 188 679.4 185.6C675.7 183.1 670.2 179.5 667.2 175.8C664.2 172.1 661.8 166.1 661.5 163.2Z" fill="none" stroke="#222" stroke-width="2" />
<path d="M666 163.6C667.2 162.1 672.3 162.8 676.2 164.2C680 165.7 685.8 169.4 689.2 172.1C692.6 174.9 695.1 178.2 696.5 180.7C697.9 183.2 698.4 185.8 697.5 187C696.5 188.3 693.8 189 690.8 188.2C687.8 187.4 683.1 184.8 679.4 182.3C675.7 179.8 671.1 176.5 668.8 173.4C666.6 170.2 664.8 165.1 666 163.6Z" fill="none" stroke="#222" stroke-width="1.88" />
<path d="M669.6 166.9C670.5 167.1 673.8 166.9 674.5 168.1C675.3 169.3 673.4 172.8 674.1 174.2C674.8 175.6 677.9 176.2 678.6 176.6" fill="none" stroke="#222" stroke-width="2.25" />
<path d="M667.2 166.9C667.4 167.8 667.3 170.6 668.4 172.5C669.5 174.4 671.9 176.6 673.7 178.2C675.5 179.9 678.5 181.6 679.4 182.3" fill="none" stroke="#222" stroke-width="2.25" />
<path d="M670.5 170.9C670.8 171.7 671.2 174.3 672.5 175.8C673.8 177.3 677.2 179.2 678.2 179.9" fill="none" stroke="#222" stroke-width="1.75" />
<path d="M681.9 172.5C683.2 172 685.6 171.6 687.5 172.5C689.4 173.5 692.2 176.3 693.2 178.2C694.3 180.1 694.7 182.7 694.1 183.9C693.4 185.2 691.2 186.1 689.2 185.6C687.1 185 683.5 182.3 681.9 180.7C680.2 179.1 679.4 177.2 679.4 175.8C679.4 174.4 680.5 173.1 681.9 172.5Z" fill="none" stroke="#222" stroke-width="2" />
<path d="M681.9 177L690.8 183.1" fill="none" stroke="#222" stroke-width="3.25" />
<path d="M689.2 186.8C689.9 186.6 692.2 186.3 693.2 185.6C694.3 184.8 695.3 182.9 695.7 182.3" fill="none" stroke="#222" stroke-width="3" />
<circle cx="693.2" cy="184.3" r="2" fill="#222" stroke="#222" stroke-width="1.5"/>
<path d="M713.6 172.5C714.7 173.6 717.9 176.6 720.1 178.6C722.3 180.7 725.6 182.9 726.6 184.8C727.6 186.6 726.9 187.7 726.2 189.6C725.5 191.5 723.8 194.5 722.5 196.1C721.2 197.8 719.7 199.1 718.5 199.6C717.2 200 715.8 198.9 715.2 198.7" fill="none" stroke="#222" stroke-width="1.88" />
<path d="M715.2 198.7L705.4 188.2" fill="none" stroke="#222" stroke-width="1.88" />
<path d="M707.9 178.2L713.6 172.5" fill="none" stroke="#222" stroke-width="1.62" />
<path d="M707.1 188.8L709.1 187.6" fill="none" stroke="#222" stroke-width="1.25" />
<path d="M708.9 190.8L710.9 189.6" fill="none" stroke="#222" stroke-width="1.25" />
<path d="M710.7 192.7L712.7 191.5" fill="none" stroke="#222" stroke-width="1.25" />
<path d="M712.4 194.7L714.5 193.5" fill="none" stroke="#222" stroke-width="1.25" />
<path d="M800.3 160.2C802.2 159 809.1 154 811.7 152.9C814.3 151.8 813.8 152.8 815.7 153.7C817.6 154.6 820.2 156 823.1 158.2C825.9 160.4 830.8 164.2 832.8 166.7C834.9 169.2 835.3 171.2 835.4 173.2C835.6 175.3 834.8 176.8 833.6 178.9C832.5 181.1 830 184.4 828.8 186.3C827.5 188.2 826.7 189.7 826.3 190.3" fill="none" stroke="#222" stroke-width="1.75" />
<path d="M801.9 161C803.5 160.2 809.4 156.8 811.7 156.2C814 155.5 815.1 156.8 815.7 157" fill="none" stroke="#222" stroke-width="1.38" />
<path d="M806 161.4C807.6 162.1 812.6 163.3 815.7 165.1C818.9 166.9 822.4 170 824.7 172.4C827 174.9 828.8 177.5 829.6 179.8C830.4 182.1 829.6 185.2 829.6 186.3" fill="none" stroke="#222" stroke-width="1.62" />
<path d="M811.7 158.2C813.3 158.9 818.5 160.7 821.4 162.7C824.4 164.6 827.5 167.6 829.6 170C831.6 172.4 833 176.1 833.6 177.3" fill="none" stroke="#222" stroke-width="1.5" />
<path d="M784 163.9C783.7 160.9 785.4 159.2 788.1 158.8C790.8 158.3 795.9 159.4 800.3 161C804.6 162.6 810.3 165.7 814.1 168.4C817.9 171.1 821.1 174.3 823.1 177.3C825 180.3 825.9 183.8 825.7 186.3C825.4 188.7 823.8 191.3 821.4 192.1C819.1 193 814.9 192.3 811.7 191.3C808.4 190.3 805.6 188.7 801.9 186.3C798.2 183.8 792.7 180.2 789.7 176.5C786.7 172.8 784.3 166.8 784 163.9Z" fill="none" stroke="#222" stroke-width="2" />
<path d="M788.5 164.3C789.7 162.8 794.8 163.5 798.7 164.9C802.5 166.4 808.3 170.1 811.7 172.8C815.1 175.6 817.6 178.9 819 181.4C820.4 183.9 820.9 186.5 820 187.7C819 189 816.3 189.7 813.3 188.9C810.3 188.1 805.6 185.5 801.9 183C798.2 180.5 793.6 177.2 791.3 174.1C789.1 170.9 787.3 165.8 788.5 164.3Z" fill="none" stroke="#222" stroke-width="1.88" />
<path d="M792.1 167.6C793 167.8 796.3 167.6 797 168.8C797.8 170 795.9 173.5 796.6 174.9C797.3 176.3 800.4 176.9 801.1 177.3" fill="none" stroke="#222" stroke-width="2.25" />
<path d="M789.7 167.6C789.9 168.5 789.8 171.3 790.9 173.2C792 175.1 794.4 177.3 796.2 178.9C798 180.6 801 182.3 801.9 183" fill="none" stroke="#222" stroke-width="2.25" />
<path d="M793 171.6C793.3 172.4 793.7 175 795 176.5C796.3 178 799.7 179.9 800.7 180.6" fill="none" stroke="#222" stroke-width="1.75" />
<path d="M804.4 173.2C805.7 172.7 808.1 172.3 810 173.2C811.9 174.2 814.7 177 815.7 178.9C816.8 180.8 817.2 183.4 816.6 184.6C815.9 185.9 813.7 186.8 811.7 186.3C809.6 185.7 806 183 804.4 181.4C802.7 179.8 801.9 177.9 801.9 176.5C801.9 175.1 803 173.8 804.4 173.2Z" fill="none" stroke="#222" stroke-width="2" />
<path d="M804.4 177.7L813.3 183.8" fill="none" stroke="#222" stroke-width="3.25" />
<path d="M811.7 187.5C812.4 187.3 814.7 187 815.7 186.3C816.8 185.5 817.8 183.6 818.2 183" fill="none" stroke="#222" stroke-width="3" />
<circle cx="815.7" cy="185" r="2" fill="#222" stroke="#222" stroke-width="1.5"/>
<path d="M836.1 173.2C837.2 174.3 840.4 177.3 842.6 179.3C844.8 181.4 848.1 183.6 849.1 185.5C850.1 187.3 849.4 188.4 848.7 190.3C848 192.2 846.3 195.2 845 196.8C843.7 198.5 842.2 199.8 841 200.3C839.7 200.7 838.3 199.6 837.7 199.4" fill="none" stroke="#222" stroke-width="1.88" />
<path d="M837.7 199.4L827.9 188.9" fill="none" stroke="#222" stroke-width="1.88" />
<path d="M830.4 178.9L836.1 173.2" fill="none" stroke="#222" stroke-width="1.62" />
<path d="M829.6 189.5L831.6 188.3" fill="none" stroke="#222" stroke-width="1.25" />
<path d="M831.4 191.5L833.4 190.3" fill="none" stroke="#222" stroke-width="1.25" />
<path d="M833.2 193.4L835.2 192.2" fill="none" stroke="#222" stroke-width="1.25" />
<path d="M834.9 195.4L837 194.2" fill="none" stroke="#222" stroke-width="1.25" />
<path d="M711.1 168.1C712.4 167.4 715.9 165.1 718.5 164C721 162.9 724.3 161.9 726.6 161.6C728.9 161.2 731.3 161.9 732.3 162" fill="none" stroke="#1a1a1a" stroke-width="2.64" />
<path d="M711.1 168.1C712.4 167.4 715.9 165.1 718.5 164C721 162.9 724.3 161.9 726.6 161.6C728.9 161.2 731.3 161.9 732.3 162" fill="none" stroke="#ddd" stroke-width="0.77" />
<path d="M726.6 161.3C727 160.5 730.8 160.1 733.1 160.2C735.4 160.3 738.4 161.6 740.4 161.8C742.5 162 744.2 161.2 745.3 161.3C746.5 161.5 747.6 162.1 747.4 162.6C747.1 163.1 745.5 164.1 743.7 164.2C741.9 164.4 738.5 163.7 736.4 163.8C734.2 163.9 732.3 165.2 730.7 164.8C729 164.4 726.2 162.1 726.6 161.3Z" fill="#ccc" stroke="#222" stroke-width="1.54" />
<path d="M834.1 170.9C835 170.1 837.4 167.6 839.4 166.4C841.4 165.2 845 164.1 846.1 163.7" fill="none" stroke="#1a1a1a" stroke-width="2.64" />
<path d="M834.1 170.9C835 170.1 837.4 167.6 839.4 166.4C841.4 165.2 845 164.1 846.1 163.7" fill="none" stroke="#ddd" stroke-width="0.77" />
<path d="M846.1 163.1L870.1 163.1" fill="none" stroke="#222" stroke-width="4.62" />
<path d="M849.9 163.1L866.3 163.1" fill="none" stroke="#ccc" stroke-width="1.76" stroke-dasharray="2 3"/>
<path d="M870.8 162.3C873.8 161.8 884 160.5 888.8 158.9C893.5 157.3 896.3 155.9 899.3 152.9C902.2 149.9 904 144.6 906.7 140.9C909.5 137.2 913.1 132.9 915.7 130.7C918.3 128.6 921.3 128.3 922.5 127.8" fill="none" stroke="#1a1a1a" stroke-width="3.3" />
<path d="M870.8 162.3C873.8 161.8 884 160.5 888.8 158.9C893.5 157.3 896.3 155.9 899.3 152.9C902.2 149.9 904 144.6 906.7 140.9C909.5 137.2 913.1 132.9 915.7 130.7C918.3 128.6 921.3 128.3 922.5 127.8" fill="none" stroke="#ddd" stroke-width="0.77" />
<path d="M870.8 163.7C874.8 163.4 888.3 163.2 894.8 161.9C901.2 160.6 904.7 158.4 909.7 155.9C914.7 153.4 920.3 149.2 924.7 146.9C929.1 144.6 934.1 142.8 935.9 142" fill="none" stroke="#1a1a1a" stroke-width="3.3" />
<path d="M870.8 163.7C874.8 163.4 888.3 163.2 894.8 161.9C901.2 160.6 904.7 158.4 909.7 155.9C914.7 153.4 920.3 149.2 924.7 146.9C929.1 144.6 934.1 142.8 935.9 142" fill="none" stroke="#ddd" stroke-width="0.77" />
<path d="M920.2 127.5C921.3 126.1 925.9 124.1 929.2 122.7C932.4 121.2 937.4 119 939.7 118.8C942 118.5 942.8 120.1 943 121.2C943.1 122.2 942.5 123.9 940.4 125.2C938.4 126.5 933.7 128 930.7 129C927.7 129.9 924.2 131 922.5 130.7C920.7 130.5 919.1 128.8 920.2 127.5Z" fill="#ddd" stroke="#222" stroke-width="1.65" />
<path d="M933.7 141.7C934.7 140.8 940 139.5 942.7 138.7C945.3 137.9 947.9 136.7 949.4 136.7C950.9 136.8 952 138.2 951.6 139.1C951.3 140 949.7 141.3 947.2 142.1C944.7 143 938.9 144.3 936.7 144.2C934.4 144.1 932.7 142.6 933.7 141.7Z" fill="#ddd" stroke="#222" stroke-width="1.65" />
<path d="M652.7 376.1C653.2 374.3 654.9 371.5 656.5 370.5C658 369.4 660.4 369 662.1 369.5C663.8 370 665.8 371.6 666.8 373.3C667.8 374.9 668.6 377.5 668.2 379.4C667.8 381.2 666.2 383.6 664.4 384.5C662.6 385.5 659.3 385.6 657.4 385C655.5 384.5 653.9 382.7 653.2 381.2C652.4 379.8 652.1 377.9 652.7 376.1Z" fill="#444" stroke="#222" stroke-width="1.32" />
<path d="M659.3 376.1C659.7 375.1 662.6 374.3 663.5 374.7C664.4 375.1 665.3 377.4 664.9 378.4C664.5 379.4 662.1 381.2 661.1 380.8C660.2 380.4 658.9 377.1 659.3 376.1Z" fill="#ddd" stroke="#555" stroke-width="1.1" />
<path d="M666.8 378L675.2 384.5L673.4 386.9L664.9 383.1Z" fill="#777" stroke="#222" stroke-width="1.32" />
<path d="M675.2 385.9L683.7 390.6" fill="none" stroke="#222" stroke-width="0.99" />
<ellipse cx="701.4" cy="401.5" rx="25.6" ry="18.8" transform="rotate(-47 701.4 401.5)" fill="#fff" stroke="#222" stroke-width="2.09" />
<path d="M704.5 418.8C704.1 418.9 702.9 419.5 702 419.8C701.2 420 700.3 420.3 699.5 420.5C698.7 420.6 697.9 420.8 697.1 420.8C696.3 420.9 695.5 420.9 694.7 420.8C693.9 420.8 693.2 420.7 692.4 420.5C691.7 420.4 691 420.2 690.4 419.9C689.7 419.6 689.1 419.3 688.5 418.9C687.9 418.5 687.4 418.1 686.9 417.7C686.4 417.2 685.9 416.7 685.5 416.1C685.1 415.5 684.7 414.9 684.4 414.3C684.1 413.7 683.8 413 683.6 412.3C683.4 411.6 683.2 410.8 683.1 410.1C683 409.3 683 408.5 683 407.7C683 406.9 683.1 406.1 683.2 405.2C683.3 404.4 683.5 403.5 683.7 402.7C683.9 401.8 684.2 401 684.5 400.1C684.8 399.2 685.2 398.4 685.7 397.5C686.1 396.7 686.6 395.9 687.1 395.1C687.6 394.2 688.1 393.4 688.7 392.7C689.3 391.9 690 391.1 690.6 390.4C691.3 389.7 692 389 692.7 388.4C693.5 387.7 694.2 387.1 695 386.5C695.8 386 696.6 385.4 697.4 384.9C698.2 384.5 699.5 383.9 699.9 383.6" fill="none" stroke="#8a8a8a" stroke-width="3.52" />
<path d="M701.3 418.2C701 418.3 700 418.6 699.3 418.7C698.6 418.9 698 418.9 697.3 419C696.7 419.1 696 419.1 695.4 419C694.8 419 694.2 418.9 693.6 418.8C693 418.7 692.4 418.6 691.9 418.4C691.3 418.2 690.8 418 690.3 417.7C689.8 417.4 689.3 417.1 688.9 416.8C688.5 416.5 688.1 416.1 687.7 415.7C687.3 415.3 687 414.8 686.7 414.3C686.4 413.9 686.1 413.4 685.9 412.8C685.7 412.3 685.5 411.7 685.3 411.2C685.2 410.6 685.1 410 685 409.4C684.9 408.7 684.9 408.1 684.9 407.4C684.9 406.8 685 406.1 685.1 405.4C685.1 404.7 685.3 404 685.4 403.4C685.6 402.7 685.8 402 686.1 401.2C686.3 400.5 686.6 399.8 686.9 399.1C687.2 398.4 687.6 397.7 687.9 397.1C688.3 396.4 688.7 395.7 689.2 395C689.6 394.4 690.1 393.7 690.6 393.1C691.1 392.4 691.7 391.8 692.2 391.2C692.8 390.6 693.4 390 693.9 389.5C694.5 389 695.2 388.4 695.8 387.9C696.4 387.4 697.4 386.8 697.7 386.5" fill="none" stroke="#222" stroke-width="1.32" />
<path d="M685.3 395.7C685.9 396.7 687.8 400.3 688.8 401.9C689.8 403.5 691.1 403.9 691.6 405.3C692 406.8 690.6 409 691.2 410.9C691.8 412.7 694.4 415.5 695 416.4" fill="none" stroke="#222" stroke-width="1.65" />
<path d="M683.3 410.9C683.9 410.6 685.8 409 686.7 409.5C687.6 409.9 688.4 412.9 688.8 413.6" fill="none" stroke="#fff" stroke-width="1.43" />
<path d="M695.7 386.7C697.1 384.8 699.8 383.4 702.6 382.6C705.3 381.8 709.4 381.2 712.2 381.9C715.1 382.6 718.1 384.7 719.8 386.7C721.6 388.8 722.5 391.7 722.6 394.3C722.7 397 721.8 400.1 720.5 402.6C719.3 405.1 717.2 407.9 715 409.5C712.8 411.1 709.9 412.2 707.4 412.2C704.9 412.2 701.8 411.1 699.8 409.5C697.9 407.9 696.6 405.1 695.7 402.6C694.8 400.1 694.3 397 694.3 394.3C694.3 391.7 694.3 388.7 695.7 386.7Z" fill="#5a5a5a" stroke="#222" stroke-width="1.32" />
<path d="M704 390.2C704.5 390.6 707.1 392 707.4 392.9C707.8 393.9 705.5 394.8 706 395.7C706.6 396.6 710.3 397.3 710.9 398.4C711.4 399.6 710.6 402.1 709.5 402.6C708.3 403 705.3 400.4 704 401.2C702.6 402 702.1 406.7 701.2 407.4C700.3 408.1 698.9 405.7 698.4 405.3" fill="none" stroke="#111" stroke-width="2.42" />
<path d="M713.6 392.2C714.1 392.8 715.5 394.8 716.4 395.7C717.3 396.6 718.7 397.4 719.1 397.8" fill="none" stroke="#111" stroke-width="2.2" />
<path d="M699.1 408.1C700.1 408.4 702.7 410.2 704.7 410.2C706.6 410.2 709.8 408.4 710.9 408.1" fill="none" stroke="#111" stroke-width="2.64" />
<path d="M709.8 388.4L713.3 389.8L710.9 392.2Z" fill="#f4f4f4" stroke="#ccc" stroke-width="0.66" />
<path d="M703.6 401.9C704 401.1 705.6 400.4 706 400.9C706.5 401.3 706.7 403.9 706.4 404.7C706 405.4 704.4 405.8 704 405.3C703.5 404.9 703.3 402.6 703.6 401.9Z" fill="#f0f0f0" stroke="#ccc" stroke-width="0.66" />
<path d="M715.7 399.1C716 398.5 717.8 398.3 718.1 398.8C718.4 399.3 718.1 401.6 717.8 402.2C717.4 402.9 716.4 403.1 716 402.6C715.7 402.1 715.3 399.8 715.7 399.1Z" fill="#e8e8e8" stroke="#bbb" stroke-width="0.66" />
<path d="M719.1 387.4C719.5 388.3 720.9 391 721.2 392.9C721.5 394.9 720.9 398.1 720.9 399.1" fill="none" stroke="#999" stroke-width="2.42" />
<path d="M715.7 409.8L719.8 410.9" fill="none" stroke="#222" stroke-width="0.99" />
<path d="M731.2 423.7L735.8 419.7L743 422.3L742.6 428.9L737.1 432.9L730.8 430.5Z" fill="#aaa" stroke="#222" stroke-width="1.54" />
<path d="M731.2 423.7L737.7 426L743 422.3" fill="none" stroke="#222" stroke-width="1.21" />
<path d="M737.7 426L737.1 432.9" fill="none" stroke="#222" stroke-width="1.21" />
<path d="M732.5 428.3L736.4 429.6" fill="none" stroke="#fff" stroke-width="1.76" />
<path d="M769.7 421C770.3 420 771.9 416 773.2 414.7C774.6 413.4 777.1 413.6 777.8 413.4" fill="none" stroke="#777" stroke-width="3.3" />
<path d="M770.2 426.9L770.5 437.5" fill="none" stroke="#888" stroke-width="2.42" />
<path d="M768 419.7C768.7 418.6 770.9 414.3 772.6 413.1C774.2 411.9 775.8 411.6 777.8 412.5C779.8 413.4 782.5 416.6 784.4 418.4C786.3 420.1 788.4 421.5 789 423C789.6 424.5 788.2 426.8 788.1 427.6" fill="none" stroke="#222" stroke-width="1.65" />
<path d="M768 419.7L769.9 426.3L771.2 426.9" fill="none" stroke="#222" stroke-width="1.54" />
<path d="M775.2 418.4L781.8 426.3L787.7 427.9" fill="none" stroke="#222" stroke-width="1.43" />
<path d="M775.2 418.4L777.8 413.1" fill="none" stroke="#222" stroke-width="1.21" />
<path d="M771.2 426.3L771.2 438.4L780.7 443.4L783.3 439.4L783.1 428.3" fill="none" stroke="#222" stroke-width="1.54" />
<path d="M776.5 428.3L776.5 440.7" fill="none" stroke="#777" stroke-width="0.99" />
<path d="M780.7 430L780.7 443.1" fill="none" stroke="#777" stroke-width="0.99" />
<path d="M785.7 422.3L789.6 425.6" fill="none" stroke="#222" stroke-width="2.42" />
<path d="M796.2 432.2L809.4 438.4" fill="none" stroke="#1a1a1a" stroke-width="5.94" style="stroke-linecap:butt"/>
<path d="M796.6 432.5L809 438.2" fill="none" stroke="#777" stroke-width="2.42" stroke-dasharray="0.7 1.7" style="stroke-linecap:butt"/>
<path d="M810 439.2L817.2 444" fill="none" stroke="#222" stroke-width="0.99" />
<path d="M730.2 472.9L730.2 455.2L734.7 450.6L741 454.9L741.3 473.6" fill="none" stroke="#222" stroke-width="1.54" />
<path d="M733.1 456.5L733.1 473.6" fill="none" stroke="#222" stroke-width="1.1" />
<path d="M733.1 456.5L741 455.8" fill="none" stroke="#222" stroke-width="1.1" />
<path d="M729.9 455.2L733.1 456.5" fill="none" stroke="#222" stroke-width="1.1" />
<path d="M728.1 461.8L728.1 465.7" fill="none" stroke="#222" stroke-width="2.2" />
<path d="M727.2 477.5C727 476.3 728 474.2 729.2 473.6C730.4 472.9 731.6 472.9 734.5 473.6C737.3 474.2 743.9 476.2 746.3 477.5C748.6 478.8 748.6 480.3 748.6 481.5C748.6 482.7 747.8 484.3 746.3 484.8C744.8 485.2 742.3 484.8 739.7 484.1C737.1 483.4 732.6 481.9 730.5 480.8C728.4 479.7 727.4 478.7 727.2 477.5Z" fill="none" stroke="#222" stroke-width="1.54" />
<ellipse cx="729.9" cy="477.3" rx="2.6" ry="3.8" transform="rotate(-25 729.9 477.3)" fill="#888" stroke="#222" stroke-width="1.32" />
<path d="M741.7 480.2L746.9 482.5" fill="none" stroke="#222" stroke-width="1.76" />
<path d="M753.5 486.1L766 491.7" fill="none" stroke="#1a1a1a" stroke-width="5.94" style="stroke-linecap:butt"/>
<path d="M753.9 486.3L765.6 491.6" fill="none" stroke="#777" stroke-width="2.42" stroke-dasharray="0.7 1.7" style="stroke-linecap:butt"/>
<path d="M768 494.9L788.3 505.1" fill="none" stroke="#222" stroke-width="0.99" />
<path d="M1072.5 535C1068.8 537.9 1057.1 545.4 1050 552.5C1042.9 559.6 1035.8 569.2 1030 577.5C1024.2 585.8 1018.8 593.8 1015 602.5C1011.2 611.2 1008.3 621.2 1007.5 630C1006.7 638.8 1007.9 647.9 1010 655C1012.1 662.1 1015.4 667.5 1020 672.5C1024.6 677.5 1030 681.2 1037.5 685C1045 688.8 1055.8 692.8 1065 695C1074.2 697.2 1087.9 697.9 1092.5 698.5" fill="none" stroke="#222" stroke-width="1.65" />
<path d="M1075 538.8C1071.5 541.5 1060.6 548.1 1053.8 555C1046.9 561.9 1039.5 571.9 1033.8 580C1028 588.1 1021.9 599.8 1019.5 603.8" fill="none" stroke="#222" stroke-width="1.1" />
<path d="M1072.5 535C1074.6 534 1079.6 529.8 1085 528.8C1090.4 527.7 1099.2 527.7 1105 528.8C1110.8 529.8 1115.4 532.3 1120 535C1124.6 537.7 1129.7 541.8 1132.5 545C1135.3 548.2 1136.2 552.9 1137 554.5" fill="none" stroke="#222" stroke-width="1.76" />
<path d="M1090 537.5C1092.5 536.9 1100.4 533.5 1105 533.8C1109.6 534 1113.3 536.2 1117.5 538.8C1121.7 541.2 1127.1 545.6 1130 548.8C1132.9 551.9 1134.2 556 1135 557.5" fill="none" stroke="#222" stroke-width="1.1" />
<ellipse cx="1110.5" cy="631.5" rx="70" ry="48.1" transform="rotate(-65 1110.5 631.5)" fill="#fff" stroke="#222" stroke-width="1.54" />
<path d="M1104.2 695.1C1103.3 695.3 1100.6 696 1098.8 696.2C1097.1 696.5 1095.3 696.6 1093.6 696.6C1091.8 696.6 1090.1 696.5 1088.4 696.3C1086.7 696.1 1085.1 695.7 1083.5 695.2C1081.9 694.8 1080.4 694.2 1078.9 693.5C1077.4 692.8 1075.9 692 1074.5 691.1C1073.2 690.1 1071.8 689.1 1070.6 688C1069.3 686.8 1068.1 685.6 1067 684.2C1065.9 682.9 1064.9 681.5 1063.9 679.9C1063 678.4 1062.1 676.8 1061.3 675.1C1060.5 673.4 1059.8 671.6 1059.2 669.8C1058.6 667.9 1058.1 666 1057.6 664C1057.2 662.1 1056.8 660 1056.6 657.9C1056.4 655.9 1056.2 653.7 1056.1 651.5C1056.1 649.4 1056.1 647.1 1056.3 644.9C1056.4 642.7 1056.6 640.4 1056.9 638.1C1057.2 635.9 1057.7 633.6 1058.2 631.3C1058.7 629 1059.3 626.7 1059.9 624.4C1060.6 622.1 1061.4 619.9 1062.3 617.6C1063.1 615.4 1064.1 613.2 1065.1 611C1066.1 608.8 1067.2 606.7 1068.4 604.6C1069.5 602.5 1070.8 600.4 1072.1 598.4C1073.4 596.4 1074.7 594.5 1076.2 592.7C1077.6 590.8 1079.1 589 1080.6 587.3C1082.2 585.6 1083.8 584 1085.4 582.4C1087 580.9 1088.7 579.4 1090.4 578.1C1092.1 576.7 1093.8 575.5 1095.6 574.3C1097.3 573.2 1099.1 572.1 1100.9 571.2C1102.7 570.2 1104.5 569.4 1106.3 568.7C1108.1 568 1110.9 567.2 1111.8 566.9" fill="none" stroke="#222" stroke-width="1.1" />
<ellipse cx="1111.9" cy="633.1" rx="33.8" ry="22.8" transform="rotate(-65 1111.9 633.1)" fill="none" stroke="#222" stroke-width="1.65" />
<path d="M1127.5 607.6C1127.8 607.9 1128.7 609 1129.2 609.8C1129.7 610.6 1130.2 611.5 1130.6 612.4C1131 613.4 1131.4 614.4 1131.7 615.4C1131.9 616.5 1132.2 617.6 1132.3 618.7C1132.5 619.8 1132.6 621 1132.6 622.2C1132.7 623.4 1132.6 624.6 1132.5 625.9C1132.4 627.1 1132.3 628.4 1132.1 629.6C1131.8 630.9 1131.5 632.2 1131.2 633.5C1130.9 634.8 1130.5 636 1130 637.3C1129.5 638.6 1129 639.8 1128.4 641.1C1127.9 642.3 1127.2 643.5 1126.6 644.6C1125.9 645.8 1125.2 646.9 1124.4 648C1123.7 649.1 1122.9 650.2 1122 651.2C1121.2 652.1 1120.3 653.1 1119.4 654C1118.5 654.8 1117.6 655.6 1116.7 656.4C1115.7 657.1 1114.8 657.8 1113.8 658.4C1112.8 659 1111.8 659.5 1110.9 660C1109.9 660.4 1108.9 660.8 1107.9 661.1C1106.9 661.4 1106 661.6 1105 661.7C1104.1 661.9 1102.7 661.8 1102.2 661.9" fill="none" stroke="#222" stroke-width="1.21" />
<path d="M1136.4 601.9L1151.6 584.5" fill="none" stroke="#222" stroke-width="4.07" />
<path d="M1136.4 601.9L1151.6 584.5" fill="none" stroke="#fff" stroke-width="1.54" />
<path d="M1142 604L1150.8 596.4" fill="none" stroke="#222" stroke-width="4.07" />
<path d="M1142 604L1150.8 596.4" fill="none" stroke="#fff" stroke-width="1.54" />
<path d="M1140.5 612L1158.1 600.6" fill="none" stroke="#222" stroke-width="4.07" />
<path d="M1140.5 612L1158.1 600.6" fill="none" stroke="#fff" stroke-width="1.54" />
<path d="M1144.6 615.9L1154.1 611.6" fill="none" stroke="#222" stroke-width="4.07" />
<path d="M1144.6 615.9L1154.1 611.6" fill="none" stroke="#fff" stroke-width="1.54" />
<path d="M1141.3 622.8L1159.4 617.7" fill="none" stroke="#222" stroke-width="4.07" />
<path d="M1141.3 622.8L1159.4 617.7" fill="none" stroke="#fff" stroke-width="1.54" />
<path d="M1144.1 627.7L1153.4 626.7" fill="none" stroke="#222" stroke-width="4.07" />
<path d="M1144.1 627.7L1153.4 626.7" fill="none" stroke="#fff" stroke-width="1.54" />
<path d="M1139.7 633.2L1156.8 634.2" fill="none" stroke="#222" stroke-width="4.07" />
<path d="M1139.7 633.2L1156.8 634.2" fill="none" stroke="#fff" stroke-width="1.54" />
<path d="M1141.2 638.9L1149.7 640.9" fill="none" stroke="#222" stroke-width="4.07" />
<path d="M1141.2 638.9L1149.7 640.9" fill="none" stroke="#fff" stroke-width="1.54" />
<path d="M1136.3 642.8L1151.4 649.5" fill="none" stroke="#222" stroke-width="4.07" />
<path d="M1136.3 642.8L1151.4 649.5" fill="none" stroke="#fff" stroke-width="1.54" />
<path d="M1136.6 649.1L1143.8 654" fill="none" stroke="#222" stroke-width="4.07" />
<path d="M1136.6 649.1L1143.8 654" fill="none" stroke="#fff" stroke-width="1.54" />
<path d="M1131.3 651.7L1143.5 663.6" fill="none" stroke="#222" stroke-width="4.07" />
<path d="M1131.3 651.7L1143.5 663.6" fill="none" stroke="#fff" stroke-width="1.54" />
<path d="M1130.1 658.5L1135.5 666" fill="none" stroke="#222" stroke-width="4.07" />
<path d="M1130.1 658.5L1135.5 666" fill="none" stroke="#fff" stroke-width="1.54" />
<path d="M1124.6 659.7L1132.9 676.4" fill="none" stroke="#222" stroke-width="4.07" />
<path d="M1124.6 659.7L1132.9 676.4" fill="none" stroke="#fff" stroke-width="1.54" />
<path d="M1121.7 666.8L1124.7 676.6" fill="none" stroke="#222" stroke-width="4.07" />
<path d="M1121.7 666.8L1124.7 676.6" fill="none" stroke="#fff" stroke-width="1.54" />
<path d="M1116 666.3L1119.3 686.8" fill="none" stroke="#222" stroke-width="4.07" />
<path d="M1116 666.3L1119.3 686.8" fill="none" stroke="#fff" stroke-width="1.54" />
<path d="M1111.1 672.8L1111.3 684.2" fill="none" stroke="#222" stroke-width="4.07" />
<path d="M1111.1 672.8L1111.3 684.2" fill="none" stroke="#fff" stroke-width="1.54" />
<path d="M1105.8 670.1L1103 692.9" fill="none" stroke="#222" stroke-width="4.07" />
<path d="M1105.8 670.1L1103 692.9" fill="none" stroke="#fff" stroke-width="1.54" />
<path d="M1099.2 674.7L1096 686.7" fill="none" stroke="#222" stroke-width="4.07" />
<path d="M1099.2 674.7L1096 686.7" fill="none" stroke="#fff" stroke-width="1.54" />
<path d="M1094.9 669.3L1085.7 691.6" fill="none" stroke="#222" stroke-width="4.07" />
<path d="M1094.9 669.3L1085.7 691.6" fill="none" stroke="#fff" stroke-width="1.54" />
<path d="M1087.5 670.5L1081.1 681.3" fill="none" stroke="#222" stroke-width="4.07" />
<path d="M1087.5 670.5L1081.1 681.3" fill="none" stroke="#fff" stroke-width="1.54" />
<path d="M1085.4 662.1L1070.6 680.2" fill="none" stroke="#222" stroke-width="4.07" />
<path d="M1085.4 662.1L1070.6 680.2" fill="none" stroke="#fff" stroke-width="1.54" />
<path d="M1078.9 658.7L1070.1 666.2" fill="none" stroke="#222" stroke-width="4.07" />
<path d="M1078.9 658.7L1070.1 666.2" fill="none" stroke="#fff" stroke-width="1.54" />
<path d="M1080.1 648.3L1062.1 658.3" fill="none" stroke="#222" stroke-width="4.07" />
<path d="M1080.1 648.3L1062.1 658.3" fill="none" stroke="#fff" stroke-width="1.54" />
<path d="M1076.4 640.5L1066.9 642.9" fill="none" stroke="#222" stroke-width="4.07" />
<path d="M1076.4 640.5L1066.9 642.9" fill="none" stroke="#fff" stroke-width="1.54" />
<path d="M1081.3 630.1L1064 629.4" fill="none" stroke="#222" stroke-width="4.07" />
<path d="M1081.3 630.1L1064 629.4" fill="none" stroke="#fff" stroke-width="1.54" />
<path d="M1081.6 619.5L1073.6 616.2" fill="none" stroke="#222" stroke-width="4.07" />
<path d="M1081.6 619.5L1073.6 616.2" fill="none" stroke="#fff" stroke-width="1.54" />
<path d="M1089.3 611.9L1076.8 600.4" fill="none" stroke="#222" stroke-width="4.07" />
<path d="M1089.3 611.9L1076.8 600.4" fill="none" stroke="#fff" stroke-width="1.54" />
<path d="M1093.6 601.4L1089 593" fill="none" stroke="#222" stroke-width="4.07" />
<path d="M1093.6 601.4L1089 593" fill="none" stroke="#fff" stroke-width="1.54" />
<path d="M1102.1 598.5L1097.2 579.1" fill="none" stroke="#222" stroke-width="4.07" />
<path d="M1102.1 598.5L1097.2 579.1" fill="none" stroke="#fff" stroke-width="1.54" />
<path d="M1109.1 590.5L1108.7 579.1" fill="none" stroke="#222" stroke-width="4.07" />
<path d="M1109.1 590.5L1108.7 579.1" fill="none" stroke="#fff" stroke-width="1.54" />
<path d="M1116.2 592.7L1119.5 569.9" fill="none" stroke="#222" stroke-width="4.07" />
<path d="M1116.2 592.7L1119.5 569.9" fill="none" stroke="#fff" stroke-width="1.54" />
<path d="M1124 588.5L1127.7 576.6" fill="none" stroke="#222" stroke-width="4.07" />
<path d="M1124 588.5L1127.7 576.6" fill="none" stroke="#fff" stroke-width="1.54" />
<path d="M1128.2 594.6L1138.6 572.8" fill="none" stroke="#222" stroke-width="4.07" />
<path d="M1128.2 594.6L1138.6 572.8" fill="none" stroke="#fff" stroke-width="1.54" />
<path d="M1135.3 594L1142.1 583.6" fill="none" stroke="#222" stroke-width="4.07" />
<path d="M1135.3 594L1142.1 583.6" fill="none" stroke="#fff" stroke-width="1.54" />
<path d="M1067.5 538C1067.1 534.8 1069.2 534.3 1072.5 533.8C1075.8 533.2 1084.1 533.4 1087.5 534.5C1090.9 535.6 1093.2 537.6 1093 540.5C1092.8 543.4 1089.2 549.9 1086.2 552C1083.2 554.1 1078.1 555.3 1075 553C1071.9 550.7 1067.9 541.2 1067.5 538Z" fill="#fff" stroke="#222" stroke-width="1.54" />
<ellipse cx="1080.5" cy="543" rx="2.6" ry="3.6" transform="rotate(-30 1080.5 543)" fill="none" stroke="#222" stroke-width="1.32" />
<ellipse cx="1080.5" cy="543" rx="1.2" ry="1.8" transform="rotate(-30 1080.5 543)" fill="none" stroke="#222" stroke-width="0.99" />
<path d="M1086.2 552C1087.9 553.3 1093.1 557.3 1096.2 560C1099.4 562.7 1103.5 566.7 1105 568" fill="none" stroke="#222" stroke-width="1.21" />
<path d="M1093 540.5C1094.2 542.1 1097.8 546.5 1100 550C1102.2 553.5 1105.4 558.2 1106.2 561.2C1107.1 564.2 1105.2 566.9 1105 568" fill="none" stroke="#222" stroke-width="1.21" />
<path d="M1075 553C1076.7 554.2 1081 557.8 1085 560C1089 562.2 1095.4 564.9 1098.8 566.2C1102.1 567.6 1104 567.7 1105 568" fill="none" stroke="#222" stroke-width="1.1" />
<path d="M1055.5 527.5L1066.5 534.5" fill="none" stroke="#222" stroke-width="1.1" />
<path d="M1082 543.5L1173.5 602.5" fill="none" stroke="#222" stroke-width="1.21" />
<path d="M1020 678L1078 713.8" fill="none" stroke="#222" stroke-width="1.1" />
<path d="M1069.2 558.3L1058.8 567.7" fill="none" stroke="#222" stroke-width="5.5" />
<path d="M1069.2 558.3L1058.8 567.7" fill="none" stroke="#e4e4e4" stroke-width="2.53" />
<path d="M1069.2 558.3L1058.8 567.7" fill="none" stroke="#555" stroke-width="2.53" stroke-dasharray="0.7 1.5" style="stroke-linecap:butt"/>
<path d="M1078.4 564.3L1068 573.7" fill="none" stroke="#222" stroke-width="5.5" />
<path d="M1078.4 564.3L1068 573.7" fill="none" stroke="#e4e4e4" stroke-width="2.53" />
<path d="M1078.4 564.3L1068 573.7" fill="none" stroke="#555" stroke-width="2.53" stroke-dasharray="0.7 1.5" style="stroke-linecap:butt"/>
<path d="M1089.2 570.3L1078.8 579.7" fill="none" stroke="#222" stroke-width="5.5" />
<path d="M1089.2 570.3L1078.8 579.7" fill="none" stroke="#e4e4e4" stroke-width="2.53" />
<path d="M1089.2 570.3L1078.8 579.7" fill="none" stroke="#555" stroke-width="2.53" stroke-dasharray="0.7 1.5" style="stroke-linecap:butt"/>
<path d="M1053.7 576.3L1043.3 585.7" fill="none" stroke="#222" stroke-width="5.5" />
<path d="M1053.7 576.3L1043.3 585.7" fill="none" stroke="#e4e4e4" stroke-width="2.53" />
<path d="M1053.7 576.3L1043.3 585.7" fill="none" stroke="#555" stroke-width="2.53" stroke-dasharray="0.7 1.5" style="stroke-linecap:butt"/>
<path d="M1063 581.5L1052.6 590.9" fill="none" stroke="#222" stroke-width="5.5" />
<path d="M1063 581.5L1052.6 590.9" fill="none" stroke="#e4e4e4" stroke-width="2.53" />
<path d="M1063 581.5L1052.6 590.9" fill="none" stroke="#555" stroke-width="2.53" stroke-dasharray="0.7 1.5" style="stroke-linecap:butt"/>
<path d="M1074.2 586.8L1063.8 596.2" fill="none" stroke="#222" stroke-width="5.5" />
<path d="M1074.2 586.8L1063.8 596.2" fill="none" stroke="#e4e4e4" stroke-width="2.53" />
<path d="M1074.2 586.8L1063.8 596.2" fill="none" stroke="#555" stroke-width="2.53" stroke-dasharray="0.7 1.5" style="stroke-linecap:butt"/>
<path d="M1109 543.5L1125 546" fill="none" stroke="#222" stroke-width="3.3" />
<path d="M1109 543.5L1125 546" fill="none" stroke="#fff" stroke-width="0.77" />
<path d="M1114.5 550.5L1129.5 553" fill="none" stroke="#222" stroke-width="3.3" />
<path d="M1114.5 550.5L1129.5 553" fill="none" stroke="#fff" stroke-width="0.77" />
<path d="M1120.5 558.5L1134.5 561" fill="none" stroke="#222" stroke-width="3.3" />
<path d="M1120.5 558.5L1134.5 561" fill="none" stroke="#fff" stroke-width="0.77" />
<path d="M1012.5 603.8C1013 600.7 1016.2 598.2 1018.8 597C1021.2 595.8 1023.8 595.1 1027.5 596.2C1031.2 597.4 1036.9 601 1041.2 603.8C1045.6 606.5 1051.4 609.8 1053.8 613C1056.1 616.2 1058.6 621.9 1055.5 623C1052.4 624.1 1041.7 620.8 1035 619.5C1028.3 618.2 1019.2 618.1 1015.5 615.5C1011.8 612.9 1012 606.8 1012.5 603.8Z" fill="#fff" stroke="#222" stroke-width="1.54" />
<ellipse cx="1022" cy="606.5" rx="2.8" ry="4" transform="rotate(-30 1022 606.5)" fill="none" stroke="#222" stroke-width="1.32" />
<ellipse cx="1022" cy="606.5" rx="1.2" ry="1.8" transform="rotate(-30 1022 606.5)" fill="none" stroke="#222" stroke-width="0.99" />
<path d="M1055.5 623C1056.2 624.2 1059.3 627.2 1060 630C1060.7 632.8 1059.6 638.3 1059.5 640" fill="none" stroke="#222" stroke-width="1.21" />
<path d="M1025 625L1035 645L1046.2 637.5L1037.5 622.5" fill="none" stroke="#222" stroke-width="1.21" />
<path d="M1025 625L1017.5 650L1023.8 670" fill="none" stroke="#222" stroke-width="1.21" />
<path d="M1046.2 637.5L1050 655L1045 670" fill="none" stroke="#222" stroke-width="1.21" />
<ellipse cx="1036.2" cy="650" rx="4.5" ry="6" transform="rotate(-30 1036.2 650)" fill="none" stroke="#222" stroke-width="1.65" />
<ellipse cx="1037" cy="650.2" rx="2.5" ry="3.8" transform="rotate(-30 1037 650.2)" fill="#999" stroke="#222" stroke-width="1.1" />
<path d="M1017.5 672.5C1019.2 671.7 1023.3 667.9 1027.5 667.5C1031.7 667.1 1037.5 667.9 1042.5 670C1047.5 672.1 1054.2 676.2 1057.5 680C1060.8 683.8 1061.7 690.4 1062.5 692.5" fill="none" stroke="#222" stroke-width="1.43" />
<path d="M1023.8 676.2C1025.2 677.3 1028.1 680.2 1032.5 682.5C1036.9 684.8 1047.1 688.8 1050 690" fill="none" stroke="#222" stroke-width="1.98" />
<path d="M1027.5 667.5C1028.1 668.8 1028.3 672.9 1031.2 675C1034.2 677.1 1040.4 678.1 1045 680C1049.6 681.9 1056.5 685.2 1058.8 686.2" fill="none" stroke="#222" stroke-width="1.1" />
</g>
</svg></body></html>
